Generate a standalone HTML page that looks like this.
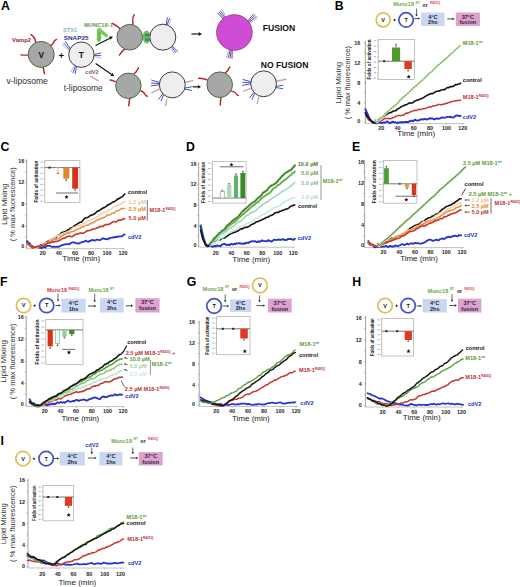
<!DOCTYPE html>
<html><head><meta charset="utf-8"><style>
html,body{margin:0;padding:0;background:#fff;}
svg{display:block;font-family:"Liberation Sans", sans-serif;}
</style></head><body>
<svg width="520" height="587" viewBox="0 0 520 587">
<rect width="520" height="587" fill="#fff"/>
<text x="334.68" y="10.15" font-size="12.3" font-weight="bold" fill="#000">B</text>
<text x="393.20" y="6.30" font-size="5.6" font-weight="bold" fill="#6aaa4a" textLength="20.8" lengthAdjust="spacingAndGlyphs">Munc18</text>
<text x="415.60" y="3.70" font-size="3.6" font-weight="bold" fill="#6aaa4a" textLength="4.2" lengthAdjust="spacingAndGlyphs">WT</text>
<text x="422.60" y="6.60" font-size="5.8" font-weight="bold" fill="#111" textLength="5.0" lengthAdjust="spacingAndGlyphs">or</text>
<text x="430.00" y="3.70" font-size="3.8" font-weight="bold" fill="#e04a4a" textLength="10.2" lengthAdjust="spacingAndGlyphs">R405Q</text>
<circle cx="383.20" cy="19.90" r="7.00" fill="#fff" stroke="#dcc058" stroke-width="1.7"/>
<text x="383.20" y="21.89" font-size="5.6" font-weight="bold" fill="#1a1a1a" text-anchor="middle">V</text>
<line x1="393.50" y1="20.00" x2="395.70" y2="20.00" stroke="#222" stroke-width="1.0" />
<line x1="394.60" y1="18.90" x2="394.60" y2="21.10" stroke="#222" stroke-width="1.0" />
<circle cx="406.10" cy="19.90" r="7.20" fill="#fff" stroke="#3f52cc" stroke-width="1.7"/>
<text x="406.10" y="21.89" font-size="5.6" font-weight="bold" fill="#1a1a1a" text-anchor="middle">T</text>
<line x1="416.60" y1="8.50" x2="416.60" y2="14.20" stroke="#222" stroke-width="0.7" />
<polygon points="416.60,16.40 415.40,14.20 417.80,14.20" fill="#222"/>
<line x1="414.30" y1="18.60" x2="418.10" y2="18.60" stroke="#222" stroke-width="0.8" />
<polygon points="420.10,18.60 418.10,19.80 418.10,17.40" fill="#222"/>
<rect x="421.20" y="12.50" width="23.40" height="13.50" fill="#c9d7f1" stroke="none" stroke-width="0.6" />
<text x="432.90" y="18.54" font-size="5.6" font-weight="bold" fill="#1a1a3a" text-anchor="middle">4°C</text>
<text x="432.90" y="24.21" font-size="5.6" font-weight="bold" fill="#1a1a3a" text-anchor="middle">2hs</text>
<line x1="447.20" y1="18.90" x2="452.40" y2="18.90" stroke="#222" stroke-width="0.8" />
<polygon points="454.60,18.90 452.40,20.20 452.40,17.60" fill="#222"/>
<rect x="455.80" y="12.50" width="24.20" height="13.50" fill="#dca3cf" stroke="none" stroke-width="0.6" />
<text x="467.90" y="18.54" font-size="5.6" font-weight="bold" fill="#3a1a3a" text-anchor="middle">37°C</text>
<text x="467.90" y="24.21" font-size="5.6" font-weight="bold" fill="#3a1a3a" text-anchor="middle">fusion</text>
<line x1="365.40" y1="41.26" x2="365.40" y2="123.60" stroke="#8c8c8c" stroke-width="0.8" />
<line x1="363.90" y1="122.60" x2="365.40" y2="122.60" stroke="#8c8c8c" stroke-width="0.6" />
<line x1="363.90" y1="112.62" x2="365.40" y2="112.62" stroke="#8c8c8c" stroke-width="0.6" />
<line x1="363.90" y1="102.64" x2="365.40" y2="102.64" stroke="#8c8c8c" stroke-width="0.6" />
<line x1="363.90" y1="92.66" x2="365.40" y2="92.66" stroke="#8c8c8c" stroke-width="0.6" />
<line x1="363.90" y1="82.68" x2="365.40" y2="82.68" stroke="#8c8c8c" stroke-width="0.6" />
<line x1="363.90" y1="72.70" x2="365.40" y2="72.70" stroke="#8c8c8c" stroke-width="0.6" />
<line x1="363.90" y1="62.72" x2="365.40" y2="62.72" stroke="#8c8c8c" stroke-width="0.6" />
<line x1="363.90" y1="52.74" x2="365.40" y2="52.74" stroke="#8c8c8c" stroke-width="0.6" />
<line x1="363.90" y1="42.76" x2="365.40" y2="42.76" stroke="#8c8c8c" stroke-width="0.6" />
<text x="360.20" y="123.32" font-size="5.4" font-weight="bold" fill="#1e1e1e" text-anchor="end">0</text>
<text x="360.20" y="104.56" font-size="5.4" font-weight="bold" fill="#1e1e1e" text-anchor="end">4</text>
<text x="360.20" y="84.60" font-size="5.4" font-weight="bold" fill="#1e1e1e" text-anchor="end">8</text>
<text x="360.20" y="64.64" font-size="5.4" font-weight="bold" fill="#1e1e1e" text-anchor="end">12</text>
<text x="360.20" y="44.68" font-size="5.4" font-weight="bold" fill="#1e1e1e" text-anchor="end">16</text>
<line x1="365.40" y1="123.60" x2="464.33" y2="123.60" stroke="#b4b4b4" stroke-width="0.8" />
<line x1="381.20" y1="123.60" x2="381.20" y2="124.80" stroke="#9a9a9a" stroke-width="0.6" />
<text x="381.20" y="129.62" font-size="5.4" font-weight="bold" fill="#1e1e1e" text-anchor="middle">20</text>
<line x1="397.50" y1="123.60" x2="397.50" y2="124.80" stroke="#9a9a9a" stroke-width="0.6" />
<text x="397.50" y="129.62" font-size="5.4" font-weight="bold" fill="#1e1e1e" text-anchor="middle">40</text>
<line x1="413.80" y1="123.60" x2="413.80" y2="124.80" stroke="#9a9a9a" stroke-width="0.6" />
<text x="413.80" y="129.62" font-size="5.4" font-weight="bold" fill="#1e1e1e" text-anchor="middle">60</text>
<line x1="430.10" y1="123.60" x2="430.10" y2="124.80" stroke="#9a9a9a" stroke-width="0.6" />
<text x="430.10" y="129.62" font-size="5.4" font-weight="bold" fill="#1e1e1e" text-anchor="middle">80</text>
<line x1="446.40" y1="123.60" x2="446.40" y2="124.80" stroke="#9a9a9a" stroke-width="0.6" />
<text x="446.40" y="129.62" font-size="5.4" font-weight="bold" fill="#1e1e1e" text-anchor="middle">100</text>
<line x1="462.70" y1="123.60" x2="462.70" y2="124.80" stroke="#9a9a9a" stroke-width="0.6" />
<text x="462.70" y="129.62" font-size="5.4" font-weight="bold" fill="#1e1e1e" text-anchor="middle">120</text>
<text x="416.20" y="136.10" font-size="7.5" fill="#222" text-anchor="middle" textLength="37.7" lengthAdjust="spacingAndGlyphs">Time  (min)</text>
<text x="338.90" y="85.24" font-size="7.2" fill="#333" text-anchor="middle" textLength="41.7" lengthAdjust="spacingAndGlyphs" transform="rotate(-90 338.90 82.68)">Lipid  Mixing</text>
<text x="347.40" y="85.24" font-size="7.2" fill="#333" text-anchor="middle" textLength="73.2" lengthAdjust="spacingAndGlyphs" transform="rotate(-90 347.40 82.68)">( % max fluorescence)</text>
<rect x="378.20" y="39.40" width="36.30" height="40.10" fill="#fff" stroke="#b4b4b4" stroke-width="0.8" />
<line x1="377.00" y1="40.90" x2="378.20" y2="40.90" stroke="#888" stroke-width="0.5" />
<rect x="373.80" y="40.40" width="2.2" height="1" fill="#b0b0b0"/>
<line x1="377.00" y1="46.20" x2="378.20" y2="46.20" stroke="#888" stroke-width="0.5" />
<rect x="373.80" y="45.70" width="2.2" height="1" fill="#b0b0b0"/>
<line x1="377.00" y1="51.50" x2="378.20" y2="51.50" stroke="#888" stroke-width="0.5" />
<rect x="373.80" y="51.00" width="2.2" height="1" fill="#b0b0b0"/>
<line x1="377.00" y1="56.80" x2="378.20" y2="56.80" stroke="#888" stroke-width="0.5" />
<rect x="373.80" y="56.30" width="2.2" height="1" fill="#b0b0b0"/>
<line x1="377.00" y1="62.10" x2="378.20" y2="62.10" stroke="#888" stroke-width="0.5" />
<rect x="373.80" y="61.60" width="2.2" height="1" fill="#b0b0b0"/>
<line x1="377.00" y1="67.40" x2="378.20" y2="67.40" stroke="#888" stroke-width="0.5" />
<rect x="373.80" y="66.90" width="2.2" height="1" fill="#b0b0b0"/>
<line x1="377.00" y1="72.70" x2="378.20" y2="72.70" stroke="#888" stroke-width="0.5" />
<rect x="373.80" y="72.20" width="2.2" height="1" fill="#b0b0b0"/>
<line x1="377.00" y1="78.00" x2="378.20" y2="78.00" stroke="#888" stroke-width="0.5" />
<rect x="373.80" y="77.50" width="2.2" height="1" fill="#b0b0b0"/>
<text x="369.20" y="61.23" font-size="5.0" font-weight="bold" fill="#111" text-anchor="middle" textLength="40.1" lengthAdjust="spacingAndGlyphs" transform="rotate(-90 369.20 59.45)">Folds of activation</text>
<line x1="378.20" y1="61.20" x2="414.50" y2="61.20" stroke="#555" stroke-width="0.8" />
<rect x="383.20" y="60.20" width="2" height="2" fill="#222"/>
<rect x="392.00" y="47.50" width="8.10" height="13.70" fill="#4f9a2c" stroke="none" stroke-width="0.6" />
<line x1="396.05" y1="47.50" x2="396.05" y2="44.10" stroke="#222" stroke-width="0.6" />
<line x1="395.15" y1="44.10" x2="396.95" y2="44.10" stroke="#222" stroke-width="0.6" />
<rect x="404.40" y="61.20" width="7.40" height="7.80" fill="#e03a22" stroke="none" stroke-width="0.6" />
<line x1="408.10" y1="69.00" x2="408.10" y2="71.00" stroke="#222" stroke-width="0.6" />
<line x1="407.20" y1="71.00" x2="409.00" y2="71.00" stroke="#222" stroke-width="0.6" />
<polygon points="408.70,74.60 409.28,76.00 410.79,76.12 409.64,77.11 409.99,78.58 408.70,77.79 407.41,78.58 407.76,77.11 406.61,76.12 408.12,76.00" fill="#111"/>
<polyline points="365.31,109.18 366.53,111.84 367.75,114.46 368.97,117.48 370.20,119.45 371.42,121.01 372.64,121.77 373.86,121.96 375.09,122.89 376.31,123.47 377.53,122.60 378.75,122.68 379.98,122.21 381.20,123.06 382.42,122.89 383.64,122.36 384.87,122.77 386.09,121.92 387.31,121.45 388.53,122.46 389.76,123.05 390.98,122.61 392.20,121.72 393.42,122.00 394.65,122.39 395.87,122.29 397.09,122.79 398.31,122.77 399.54,122.41 400.76,122.07 401.98,122.23 403.20,122.30 404.43,122.32 405.65,121.94 406.87,121.93 408.09,122.29 409.32,121.24 410.54,121.00 411.76,120.69 412.98,121.14 414.21,120.17 415.43,119.74 416.65,120.54 417.88,120.67 419.10,120.11 420.32,119.75 421.54,119.15 422.76,119.52 423.99,119.08 425.21,119.00 426.43,119.46 427.65,119.26 428.88,118.64 430.10,118.28 431.32,118.52 432.54,118.48 433.77,119.24 434.99,119.32 436.21,118.49 437.43,118.51 438.66,118.82 439.88,118.39 441.10,117.84 442.32,117.50 443.55,117.68 444.77,117.63 445.99,117.44 447.21,116.85 448.44,116.83 449.66,116.94 450.88,116.80 452.10,117.34 453.33,117.57 454.55,116.66 455.77,115.63 457.00,115.52 458.22,115.69 459.44,116.06 460.66,115.71" fill="none" stroke="#2433c8" stroke-width="1.9" stroke-linejoin="round" stroke-linecap="round" />
<polyline points="365.31,115.07 366.53,116.33 367.75,118.58 368.97,120.24 370.20,120.61 371.42,121.14 372.64,121.64 373.86,122.41 375.09,122.45 376.31,122.04 377.53,121.59 378.75,121.67 379.98,121.24 381.20,120.88 382.42,120.13 383.64,119.20 384.87,118.55 386.09,118.51 387.31,118.46 388.53,118.50 389.76,118.67 390.98,118.64 392.20,117.96 393.42,117.59 394.65,117.16 395.87,116.16 397.09,115.86 398.31,115.51 399.54,115.55 400.76,115.70 401.98,115.30 403.20,115.15 404.43,114.48 405.65,113.37 406.87,112.96 408.09,113.18 409.32,112.33 410.54,111.80 411.76,111.44 412.98,110.89 414.21,110.60 415.43,110.27 416.65,110.47 417.88,109.71 419.10,109.15 420.32,109.65 421.54,109.12 422.76,108.72 423.99,108.66 425.21,108.42 426.43,108.20 427.65,107.43 428.88,107.35 430.10,106.78 431.32,106.89 432.54,106.20 433.77,105.64 434.99,105.72 436.21,105.51 437.43,104.84 438.66,104.56 439.88,104.55 441.10,104.74 442.32,104.61 443.55,103.97 444.77,104.10 445.99,103.17 447.21,103.26 448.44,102.43 449.66,102.53 450.88,101.69 452.10,101.38 453.33,101.31 454.55,101.13 455.77,100.75 457.00,100.48 458.22,100.53 459.44,100.57 460.66,100.11" fill="none" stroke="#c8372a" stroke-width="1.5" stroke-linejoin="round" stroke-linecap="round" />
<polyline points="365.31,112.93 366.53,115.01 367.75,117.07 368.97,118.53 370.20,119.76 371.42,121.44 372.64,122.66 373.86,122.45 375.09,122.93 376.31,122.17 377.53,120.33 378.75,119.56 379.98,118.37 381.20,117.79 382.42,116.96 383.64,116.77 384.87,115.81 386.09,114.68 387.31,114.15 388.53,113.32 389.76,112.64 390.98,112.72 392.20,111.68 393.42,111.02 394.65,110.72 395.87,110.63 397.09,109.34 398.31,108.81 399.54,107.96 400.76,107.03 401.98,106.44 403.20,105.61 404.43,105.53 405.65,104.76 406.87,104.51 408.09,103.56 409.32,102.84 410.54,103.12 411.76,103.03 412.98,102.67 414.21,101.35 415.43,100.98 416.65,100.32 417.88,100.10 419.10,99.52 420.32,99.11 421.54,98.70 422.76,97.98 423.99,97.34 425.21,96.37 426.43,95.86 427.65,95.05 428.88,94.46 430.10,93.74 431.32,93.50 432.54,93.77 433.77,92.90 434.99,92.05 436.21,91.43 437.43,91.26 438.66,90.80 439.88,90.93 441.10,90.07 442.32,89.68 443.55,89.60 444.77,89.63 445.99,88.51 447.21,87.49 448.44,87.77 449.66,86.90 450.88,86.66 452.10,86.64 453.33,86.27 454.55,85.30 455.77,84.41 457.00,84.68 458.22,83.98 459.44,84.06 460.66,83.12" fill="none" stroke="#141414" stroke-width="1.6" stroke-linejoin="round" stroke-linecap="round" />
<polyline points="375.09,119.76 376.72,122.19 378.35,120.62 379.98,119.23 381.61,117.85 383.24,116.23 384.87,114.35 386.50,112.69 388.13,111.12 389.76,109.91 391.39,108.39 393.02,107.04 394.65,105.70 396.28,104.34 397.91,102.86 399.54,100.94 401.17,99.26 402.80,97.66 404.43,96.11 406.06,94.95 407.69,93.58 409.32,91.98 410.95,90.35 412.58,88.71 414.21,87.11 415.84,86.03 417.47,84.47 419.10,82.90 420.73,81.46 422.36,80.19 423.99,78.66 425.62,77.37 427.25,75.50 428.88,73.82 430.51,72.40 432.14,71.10 433.77,69.36 435.40,67.92 437.03,66.28 438.66,64.71 440.29,63.38 441.92,62.04 443.55,60.53 445.18,59.12 446.81,57.85 448.44,56.40 450.07,54.63 451.70,53.43 453.33,52.11 454.96,50.37 456.59,48.94 458.22,47.33 459.85,45.81" fill="none" stroke="#dcefd0" stroke-width="2.4000000000000004" stroke-linejoin="round" stroke-linecap="round" />
<polyline points="375.09,119.76 376.72,122.19 378.35,120.62 379.98,119.23 381.61,117.85 383.24,116.23 384.87,114.35 386.50,112.69 388.13,111.12 389.76,109.91 391.39,108.39 393.02,107.04 394.65,105.70 396.28,104.34 397.91,102.86 399.54,100.94 401.17,99.26 402.80,97.66 404.43,96.11 406.06,94.95 407.69,93.58 409.32,91.98 410.95,90.35 412.58,88.71 414.21,87.11 415.84,86.03 417.47,84.47 419.10,82.90 420.73,81.46 422.36,80.19 423.99,78.66 425.62,77.37 427.25,75.50 428.88,73.82 430.51,72.40 432.14,71.10 433.77,69.36 435.40,67.92 437.03,66.28 438.66,64.71 440.29,63.38 441.92,62.04 443.55,60.53 445.18,59.12 446.81,57.85 448.44,56.40 450.07,54.63 451.70,53.43 453.33,52.11 454.96,50.37 456.59,48.94 458.22,47.33 459.85,45.81" fill="none" stroke="#6aa84a" stroke-width="1.1" stroke-linejoin="round" stroke-linecap="round" stroke-dasharray="1.3 1.5"/>
<text x="462.80" y="44.79" font-size="5.6" font-weight="bold" fill="#5a9a3a">M18-1<tspan font-size="3.6" dy="-2">wt</tspan></text>
<text x="462.80" y="82.29" font-size="5.6" font-weight="bold" fill="#111">control</text>
<text x="462.80" y="98.59" font-size="5.6" font-weight="bold" fill="#bb3038">M18-1<tspan font-size="3.2" dy="-2">R405Q</tspan></text>
<text x="462.80" y="118.69" font-size="5.6" font-weight="bold" fill="#2433c8">cdV2</text>
<text x="0.40" y="150.65" font-size="12.3" font-weight="bold" fill="#000">C</text>
<line x1="26.60" y1="159.38" x2="26.60" y2="248.60" stroke="#8c8c8c" stroke-width="0.8" />
<line x1="25.10" y1="247.60" x2="26.60" y2="247.60" stroke="#8c8c8c" stroke-width="0.6" />
<line x1="25.10" y1="236.76" x2="26.60" y2="236.76" stroke="#8c8c8c" stroke-width="0.6" />
<line x1="25.10" y1="225.92" x2="26.60" y2="225.92" stroke="#8c8c8c" stroke-width="0.6" />
<line x1="25.10" y1="215.08" x2="26.60" y2="215.08" stroke="#8c8c8c" stroke-width="0.6" />
<line x1="25.10" y1="204.24" x2="26.60" y2="204.24" stroke="#8c8c8c" stroke-width="0.6" />
<line x1="25.10" y1="193.40" x2="26.60" y2="193.40" stroke="#8c8c8c" stroke-width="0.6" />
<line x1="25.10" y1="182.56" x2="26.60" y2="182.56" stroke="#8c8c8c" stroke-width="0.6" />
<line x1="25.10" y1="171.72" x2="26.60" y2="171.72" stroke="#8c8c8c" stroke-width="0.6" />
<line x1="25.10" y1="160.88" x2="26.60" y2="160.88" stroke="#8c8c8c" stroke-width="0.6" />
<text x="24.30" y="248.32" font-size="5.4" font-weight="bold" fill="#1e1e1e" text-anchor="end">0</text>
<text x="24.30" y="227.84" font-size="5.4" font-weight="bold" fill="#1e1e1e" text-anchor="end">4</text>
<text x="24.30" y="206.16" font-size="5.4" font-weight="bold" fill="#1e1e1e" text-anchor="end">8</text>
<text x="24.30" y="184.48" font-size="5.4" font-weight="bold" fill="#1e1e1e" text-anchor="end">12</text>
<text x="24.30" y="162.80" font-size="5.4" font-weight="bold" fill="#1e1e1e" text-anchor="end">16</text>
<line x1="26.60" y1="248.60" x2="124.66" y2="248.60" stroke="#b4b4b4" stroke-width="0.8" />
<line x1="42.80" y1="248.60" x2="42.80" y2="249.80" stroke="#9a9a9a" stroke-width="0.6" />
<text x="42.80" y="254.82" font-size="5.4" font-weight="bold" fill="#1e1e1e" text-anchor="middle">20</text>
<line x1="58.85" y1="248.60" x2="58.85" y2="249.80" stroke="#9a9a9a" stroke-width="0.6" />
<text x="58.85" y="254.82" font-size="5.4" font-weight="bold" fill="#1e1e1e" text-anchor="middle">40</text>
<line x1="74.90" y1="248.60" x2="74.90" y2="249.80" stroke="#9a9a9a" stroke-width="0.6" />
<text x="74.90" y="254.82" font-size="5.4" font-weight="bold" fill="#1e1e1e" text-anchor="middle">60</text>
<line x1="90.95" y1="248.60" x2="90.95" y2="249.80" stroke="#9a9a9a" stroke-width="0.6" />
<text x="90.95" y="254.82" font-size="5.4" font-weight="bold" fill="#1e1e1e" text-anchor="middle">80</text>
<line x1="107.00" y1="248.60" x2="107.00" y2="249.80" stroke="#9a9a9a" stroke-width="0.6" />
<text x="107.00" y="254.82" font-size="5.4" font-weight="bold" fill="#1e1e1e" text-anchor="middle">100</text>
<line x1="123.05" y1="248.60" x2="123.05" y2="249.80" stroke="#9a9a9a" stroke-width="0.6" />
<text x="123.05" y="254.82" font-size="5.4" font-weight="bold" fill="#1e1e1e" text-anchor="middle">120</text>
<text x="81.20" y="260.80" font-size="7.5" fill="#222" text-anchor="middle" textLength="37.7" lengthAdjust="spacingAndGlyphs">Time  (min)</text>
<text x="4.00" y="206.80" font-size="7.2" fill="#333" text-anchor="middle" textLength="41.7" lengthAdjust="spacingAndGlyphs" transform="rotate(-90 4.00 204.24)">Lipid  Mixing</text>
<text x="12.40" y="206.80" font-size="7.2" fill="#333" text-anchor="middle" textLength="74" lengthAdjust="spacingAndGlyphs" transform="rotate(-90 12.40 204.24)">( % max fluorescence)</text>
<rect x="44.80" y="160.60" width="35.10" height="42.00" fill="#fff" stroke="#b4b4b4" stroke-width="0.8" />
<line x1="43.60" y1="162.10" x2="44.80" y2="162.10" stroke="#888" stroke-width="0.5" />
<rect x="40.40" y="161.60" width="2.2" height="1" fill="#b0b0b0"/>
<line x1="43.60" y1="167.67" x2="44.80" y2="167.67" stroke="#888" stroke-width="0.5" />
<rect x="40.40" y="167.17" width="2.2" height="1" fill="#b0b0b0"/>
<line x1="43.60" y1="173.24" x2="44.80" y2="173.24" stroke="#888" stroke-width="0.5" />
<rect x="40.40" y="172.74" width="2.2" height="1" fill="#b0b0b0"/>
<line x1="43.60" y1="178.81" x2="44.80" y2="178.81" stroke="#888" stroke-width="0.5" />
<rect x="40.40" y="178.31" width="2.2" height="1" fill="#b0b0b0"/>
<line x1="43.60" y1="184.39" x2="44.80" y2="184.39" stroke="#888" stroke-width="0.5" />
<rect x="40.40" y="183.89" width="2.2" height="1" fill="#b0b0b0"/>
<line x1="43.60" y1="189.96" x2="44.80" y2="189.96" stroke="#888" stroke-width="0.5" />
<rect x="40.40" y="189.46" width="2.2" height="1" fill="#b0b0b0"/>
<line x1="43.60" y1="195.53" x2="44.80" y2="195.53" stroke="#888" stroke-width="0.5" />
<rect x="40.40" y="195.03" width="2.2" height="1" fill="#b0b0b0"/>
<line x1="43.60" y1="201.10" x2="44.80" y2="201.10" stroke="#888" stroke-width="0.5" />
<rect x="40.40" y="200.60" width="2.2" height="1" fill="#b0b0b0"/>
<text x="35.80" y="183.38" font-size="5.0" font-weight="bold" fill="#111" text-anchor="middle" textLength="42.0" lengthAdjust="spacingAndGlyphs" transform="rotate(-90 35.80 181.60)">Folds of activation</text>
<line x1="44.80" y1="167.60" x2="79.90" y2="167.60" stroke="#555" stroke-width="0.8" />
<rect x="48.50" y="166.60" width="2" height="2" fill="#222"/>
<rect x="56.50" y="167.60" width="2.70" height="4.90" fill="#f6dcc0" stroke="none" stroke-width="0.6" />
<line x1="57.85" y1="172.50" x2="57.85" y2="173.50" stroke="#222" stroke-width="0.6" />
<line x1="56.95" y1="173.50" x2="58.75" y2="173.50" stroke="#222" stroke-width="0.6" />
<rect x="63.30" y="167.60" width="6.00" height="11.10" fill="#e0892a" stroke="none" stroke-width="0.6" />
<line x1="66.30" y1="178.70" x2="66.30" y2="180.30" stroke="#222" stroke-width="0.6" />
<line x1="65.40" y1="180.30" x2="67.20" y2="180.30" stroke="#222" stroke-width="0.6" />
<rect x="72.20" y="167.60" width="5.90" height="21.10" fill="#d8321c" stroke="none" stroke-width="0.6" />
<line x1="75.15" y1="188.70" x2="75.15" y2="190.30" stroke="#222" stroke-width="0.6" />
<line x1="74.25" y1="190.30" x2="76.05" y2="190.30" stroke="#222" stroke-width="0.6" />
<line x1="56.00" y1="193.00" x2="78.00" y2="193.00" stroke="#333" stroke-width="0.7" />
<polygon points="66.60,194.80 67.18,196.20 68.69,196.32 67.54,197.31 67.89,198.78 66.60,197.99 65.31,198.78 65.66,197.31 64.51,196.32 66.02,196.20" fill="#111"/>
<polyline points="27.15,241.17 28.36,242.63 29.56,243.37 30.76,244.84 31.97,245.89 33.17,246.55 34.37,247.61 35.58,247.72 36.78,247.50 37.98,247.03 39.19,247.77 40.39,247.86 41.60,248.20 42.80,247.26 44.00,246.83 45.21,247.52 46.41,246.45 47.61,245.79 48.82,245.81 50.02,245.83 51.23,246.48 52.43,247.04 53.63,246.53 54.84,246.89 56.04,246.84 57.25,246.68 58.45,246.84 59.65,246.22 60.86,245.82 62.06,244.91 63.26,244.79 64.47,244.47 65.67,244.42 66.88,244.09 68.08,244.13 69.28,244.36 70.49,243.33 71.69,242.66 72.89,242.42 74.10,242.40 75.30,242.92 76.50,243.29 77.71,243.35 78.91,243.64 80.12,242.69 81.32,242.60 82.52,241.80 83.73,241.94 84.93,241.08 86.13,240.66 87.34,241.61 88.54,241.79 89.75,240.76 90.95,240.73 92.15,239.86 93.36,240.14 94.56,240.72 95.77,240.15 96.97,239.50 98.17,239.80 99.38,240.17 100.58,239.95 101.78,238.77 102.99,238.29 104.19,238.89 105.39,238.98 106.60,239.16 107.80,239.25 109.01,238.10 110.21,238.27 111.41,237.70 112.62,237.45 113.82,237.60 115.03,236.78 116.23,237.12 117.43,236.45 118.64,236.76 119.84,236.40 121.04,236.41 122.25,236.24 123.45,234.99 124.66,234.40" fill="none" stroke="#2433c8" stroke-width="1.8" stroke-linejoin="round" stroke-linecap="round" />
<polyline points="27.15,243.30 28.36,244.14 29.56,244.90 30.76,246.26 31.97,247.41 33.17,247.72 34.37,248.07 35.58,247.57 36.78,247.17 37.98,246.53 39.19,245.93 40.39,245.17 41.60,245.12 42.80,244.43 44.00,244.11 45.21,242.68 46.41,242.64 47.61,241.36 48.82,241.27 50.02,240.15 51.23,239.65 52.43,238.98 53.63,237.73 54.84,237.77 56.04,237.45 57.25,235.87 58.45,235.16 59.65,234.99 60.86,233.44 62.06,232.27 63.26,232.37 64.47,231.74 65.67,231.44 66.88,230.75 68.08,229.64 69.28,229.27 70.49,228.07 71.69,227.90 72.89,227.35 74.10,225.89 75.30,225.26 76.50,224.56 77.71,223.62 78.91,222.92 80.12,222.32 81.32,222.13 82.52,220.81 83.73,219.41 84.93,218.27 86.13,217.69 87.34,217.44 88.54,216.99 89.75,216.00 90.95,215.12 92.15,215.03 93.36,214.52 94.56,213.75 95.77,212.79 96.97,211.53 98.17,210.88 99.38,210.80 100.58,209.42 101.78,208.80 102.99,208.01 104.19,207.63 105.39,206.82 106.60,206.09 107.80,204.85 109.01,204.68 110.21,203.69 111.41,203.28 112.62,202.05 113.82,201.87 115.03,201.15 116.23,200.33 117.43,199.15 118.64,198.90 119.84,197.91 121.04,197.34 122.25,196.60 123.45,195.60 124.66,194.07" fill="none" stroke="#141414" stroke-width="1.6" stroke-linejoin="round" stroke-linecap="round" />
<polyline points="27.15,243.58 28.36,244.27 29.56,244.96 30.76,245.38 31.97,246.65 33.17,247.45 34.37,248.08 35.58,248.33 36.78,247.55 37.98,247.35 39.19,246.45 40.39,246.08 41.60,245.51 42.80,244.73 44.00,243.49 45.21,242.80 46.41,242.90 47.61,242.38 48.82,241.98 50.02,240.56 51.23,239.53 52.43,238.67 53.63,237.88 54.84,237.26 56.04,236.38 57.25,235.80 58.45,235.90 59.65,234.94 60.86,234.59 62.06,233.79 63.26,233.30 64.47,232.93 65.67,232.55 66.88,231.99 68.08,231.55 69.28,231.30 70.49,229.98 71.69,228.97 72.89,227.87 74.10,227.35 75.30,226.96 76.50,226.23 77.71,226.34 78.91,225.45 80.12,224.98 81.32,224.79 82.52,224.39 83.73,223.49 84.93,223.05 86.13,222.27 87.34,221.36 88.54,220.84 89.75,220.62 90.95,219.78 92.15,219.35 93.36,218.85 94.56,218.35 95.77,217.58 96.97,217.25 98.17,216.05 99.38,214.69 100.58,214.36 101.78,213.48 102.99,212.43 104.19,212.71 105.39,212.50 106.60,211.26 107.80,210.22 109.01,209.61 110.21,209.62 111.41,209.05 112.62,207.86 113.82,206.88 115.03,206.15 116.23,206.25 117.43,205.21 118.64,204.96 119.84,204.11 121.04,204.11 122.25,202.78 123.45,202.21 124.66,201.46" fill="none" stroke="#f3d3b3" stroke-width="1.6" stroke-linejoin="round" stroke-linecap="round" />
<polyline points="27.15,243.78 28.36,244.36 29.56,245.06 30.76,245.32 31.97,246.50 33.17,247.33 34.37,247.24 35.58,247.27 36.78,247.50 37.98,246.68 39.19,246.35 40.39,245.44 41.60,245.53 42.80,245.23 44.00,243.95 45.21,243.67 46.41,243.42 47.61,242.34 48.82,241.69 50.02,241.72 51.23,240.99 52.43,240.19 53.63,240.15 54.84,239.27 56.04,239.21 57.25,238.68 58.45,238.47 59.65,237.97 60.86,236.45 62.06,236.07 63.26,234.85 64.47,234.63 65.67,234.05 66.88,233.15 68.08,232.63 69.28,232.85 70.49,232.14 71.69,231.44 72.89,231.39 74.10,231.26 75.30,229.94 76.50,229.41 77.71,229.28 78.91,228.66 80.12,228.37 81.32,227.22 82.52,226.70 83.73,226.69 84.93,225.54 86.13,225.57 87.34,225.13 88.54,224.97 89.75,223.74 90.95,223.59 92.15,222.75 93.36,222.59 94.56,221.78 95.77,220.80 96.97,220.19 98.17,219.72 99.38,219.17 100.58,218.69 101.78,217.98 102.99,217.99 104.19,217.28 105.39,216.95 106.60,215.71 107.80,214.66 109.01,214.94 110.21,214.79 111.41,213.76 112.62,213.09 113.82,213.19 115.03,212.14 116.23,210.99 117.43,210.75 118.64,210.49 119.84,209.83 121.04,208.73 122.25,208.74 123.45,208.47 124.66,208.24" fill="none" stroke="#e3954a" stroke-width="1.6" stroke-linejoin="round" stroke-linecap="round" />
<polyline points="27.15,242.66 28.36,244.59 29.56,245.09 30.76,246.35 31.97,246.19 33.17,247.45 34.37,247.13 35.58,247.17 36.78,246.77 37.98,246.00 39.19,246.38 40.39,246.32 41.60,245.64 42.80,245.64 44.00,245.50 45.21,245.31 46.41,244.21 47.61,243.38 48.82,242.82 50.02,243.08 51.23,242.16 52.43,241.99 53.63,242.10 54.84,241.71 56.04,241.37 57.25,241.45 58.45,240.71 59.65,240.38 60.86,239.75 62.06,238.74 63.26,238.35 64.47,238.27 65.67,237.47 66.88,236.66 68.08,236.68 69.28,235.94 70.49,236.54 71.69,236.59 72.89,236.42 74.10,235.16 75.30,234.58 76.50,234.03 77.71,234.11 78.91,233.72 80.12,232.83 81.32,233.16 82.52,233.18 83.73,233.12 84.93,232.38 86.13,231.30 87.34,230.86 88.54,230.64 89.75,230.22 90.95,230.23 92.15,229.08 93.36,229.01 94.56,228.96 95.77,228.68 96.97,227.68 98.17,227.59 99.38,226.61 100.58,226.60 101.78,226.31 102.99,226.45 104.19,225.30 105.39,224.59 106.60,224.43 107.80,224.64 109.01,224.12 110.21,223.80 111.41,222.85 112.62,222.01 113.82,221.59 115.03,221.77 116.23,222.04 117.43,220.94 118.64,220.06 119.84,220.39 121.04,219.99 122.25,219.62 123.45,218.59 124.66,219.03" fill="none" stroke="#c8372a" stroke-width="1.6" stroke-linejoin="round" stroke-linecap="round" />
<text x="128.00" y="194.49" font-size="5.6" font-weight="bold" fill="#111">control</text>
<text x="128.60" y="203.99" font-size="5.6" font-weight="bold" fill="#f0c49a">1.2 µM</text>
<text x="128.60" y="210.99" font-size="5.6" font-weight="bold" fill="#e0882e">2.5 µM</text>
<text x="128.60" y="219.59" font-size="5.6" font-weight="bold" fill="#c8372a">5.0 µM</text>
<line x1="147.30" y1="200.00" x2="147.30" y2="220.80" stroke="#6a6a6a" stroke-width="0.9" />
<text x="149.60" y="211.99" font-size="5.6" font-weight="bold" fill="#bb3038">M18-1<tspan font-size="3.2" dy="-2">R405Q</tspan></text>
<text x="128.00" y="238.99" font-size="5.6" font-weight="bold" fill="#2433c8">cdV2</text>
<text x="186.08" y="150.95" font-size="12.3" font-weight="bold" fill="#000">D</text>
<line x1="198.70" y1="162.46" x2="198.70" y2="247.20" stroke="#8c8c8c" stroke-width="0.8" />
<line x1="197.20" y1="246.20" x2="198.70" y2="246.20" stroke="#8c8c8c" stroke-width="0.6" />
<line x1="197.20" y1="235.92" x2="198.70" y2="235.92" stroke="#8c8c8c" stroke-width="0.6" />
<line x1="197.20" y1="225.64" x2="198.70" y2="225.64" stroke="#8c8c8c" stroke-width="0.6" />
<line x1="197.20" y1="215.36" x2="198.70" y2="215.36" stroke="#8c8c8c" stroke-width="0.6" />
<line x1="197.20" y1="205.08" x2="198.70" y2="205.08" stroke="#8c8c8c" stroke-width="0.6" />
<line x1="197.20" y1="194.80" x2="198.70" y2="194.80" stroke="#8c8c8c" stroke-width="0.6" />
<line x1="197.20" y1="184.52" x2="198.70" y2="184.52" stroke="#8c8c8c" stroke-width="0.6" />
<line x1="197.20" y1="174.24" x2="198.70" y2="174.24" stroke="#8c8c8c" stroke-width="0.6" />
<line x1="197.20" y1="163.96" x2="198.70" y2="163.96" stroke="#8c8c8c" stroke-width="0.6" />
<text x="196.40" y="246.92" font-size="5.4" font-weight="bold" fill="#1e1e1e" text-anchor="end">0</text>
<text x="196.40" y="227.56" font-size="5.4" font-weight="bold" fill="#1e1e1e" text-anchor="end">4</text>
<text x="196.40" y="207.00" font-size="5.4" font-weight="bold" fill="#1e1e1e" text-anchor="end">8</text>
<text x="196.40" y="186.44" font-size="5.4" font-weight="bold" fill="#1e1e1e" text-anchor="end">12</text>
<text x="196.40" y="165.88" font-size="5.4" font-weight="bold" fill="#1e1e1e" text-anchor="end">16</text>
<line x1="198.70" y1="247.20" x2="294.85" y2="247.20" stroke="#b4b4b4" stroke-width="0.8" />
<line x1="215.80" y1="247.20" x2="215.80" y2="248.40" stroke="#9a9a9a" stroke-width="0.6" />
<text x="215.80" y="255.02" font-size="5.4" font-weight="bold" fill="#1e1e1e" text-anchor="middle">20</text>
<line x1="231.30" y1="247.20" x2="231.30" y2="248.40" stroke="#9a9a9a" stroke-width="0.6" />
<text x="231.30" y="255.02" font-size="5.4" font-weight="bold" fill="#1e1e1e" text-anchor="middle">40</text>
<line x1="246.80" y1="247.20" x2="246.80" y2="248.40" stroke="#9a9a9a" stroke-width="0.6" />
<text x="246.80" y="255.02" font-size="5.4" font-weight="bold" fill="#1e1e1e" text-anchor="middle">60</text>
<line x1="262.30" y1="247.20" x2="262.30" y2="248.40" stroke="#9a9a9a" stroke-width="0.6" />
<text x="262.30" y="255.02" font-size="5.4" font-weight="bold" fill="#1e1e1e" text-anchor="middle">80</text>
<line x1="277.80" y1="247.20" x2="277.80" y2="248.40" stroke="#9a9a9a" stroke-width="0.6" />
<text x="277.80" y="255.02" font-size="5.4" font-weight="bold" fill="#1e1e1e" text-anchor="middle">100</text>
<line x1="293.30" y1="247.20" x2="293.30" y2="248.40" stroke="#9a9a9a" stroke-width="0.6" />
<text x="293.30" y="255.02" font-size="5.4" font-weight="bold" fill="#1e1e1e" text-anchor="middle">120</text>
<text x="251.20" y="261.70" font-size="7.5" fill="#222" text-anchor="middle" textLength="37.7" lengthAdjust="spacingAndGlyphs">Time  (min)</text>
<rect x="212.40" y="161.60" width="33.70" height="41.50" fill="#fff" stroke="#b4b4b4" stroke-width="0.8" />
<line x1="211.20" y1="163.10" x2="212.40" y2="163.10" stroke="#888" stroke-width="0.5" />
<rect x="208.00" y="162.60" width="2.2" height="1" fill="#b0b0b0"/>
<line x1="211.20" y1="168.60" x2="212.40" y2="168.60" stroke="#888" stroke-width="0.5" />
<rect x="208.00" y="168.10" width="2.2" height="1" fill="#b0b0b0"/>
<line x1="211.20" y1="174.10" x2="212.40" y2="174.10" stroke="#888" stroke-width="0.5" />
<rect x="208.00" y="173.60" width="2.2" height="1" fill="#b0b0b0"/>
<line x1="211.20" y1="179.60" x2="212.40" y2="179.60" stroke="#888" stroke-width="0.5" />
<rect x="208.00" y="179.10" width="2.2" height="1" fill="#b0b0b0"/>
<line x1="211.20" y1="185.10" x2="212.40" y2="185.10" stroke="#888" stroke-width="0.5" />
<rect x="208.00" y="184.60" width="2.2" height="1" fill="#b0b0b0"/>
<line x1="211.20" y1="190.60" x2="212.40" y2="190.60" stroke="#888" stroke-width="0.5" />
<rect x="208.00" y="190.10" width="2.2" height="1" fill="#b0b0b0"/>
<line x1="211.20" y1="196.10" x2="212.40" y2="196.10" stroke="#888" stroke-width="0.5" />
<rect x="208.00" y="195.60" width="2.2" height="1" fill="#b0b0b0"/>
<line x1="211.20" y1="201.60" x2="212.40" y2="201.60" stroke="#888" stroke-width="0.5" />
<rect x="208.00" y="201.10" width="2.2" height="1" fill="#b0b0b0"/>
<text x="203.40" y="184.12" font-size="5.0" font-weight="bold" fill="#111" text-anchor="middle" textLength="41.5" lengthAdjust="spacingAndGlyphs" transform="rotate(-90 203.40 182.35)">Folds of activation</text>
<line x1="212.40" y1="198.00" x2="246.10" y2="198.00" stroke="#555" stroke-width="0.8" />
<rect x="220.20" y="191.40" width="4.30" height="6.60" fill="#f4fbf4" stroke="#7ab07a" stroke-width="0.6" />
<line x1="222.35" y1="191.40" x2="222.35" y2="190.20" stroke="#222" stroke-width="0.6" />
<line x1="221.45" y1="190.20" x2="223.25" y2="190.20" stroke="#222" stroke-width="0.6" />
<rect x="227.00" y="185.00" width="4.40" height="13.00" fill="#a8dcb8" stroke="none" stroke-width="0.6" />
<line x1="229.20" y1="185.00" x2="229.20" y2="183.60" stroke="#222" stroke-width="0.6" />
<line x1="228.30" y1="183.60" x2="230.10" y2="183.60" stroke="#222" stroke-width="0.6" />
<rect x="234.00" y="175.50" width="4.00" height="22.50" fill="#5cb46a" stroke="none" stroke-width="0.6" />
<line x1="236.00" y1="175.50" x2="236.00" y2="173.90" stroke="#222" stroke-width="0.6" />
<line x1="235.10" y1="173.90" x2="236.90" y2="173.90" stroke="#222" stroke-width="0.6" />
<rect x="240.40" y="172.90" width="4.90" height="25.10" fill="#3a8a2a" stroke="none" stroke-width="0.6" />
<line x1="242.85" y1="172.90" x2="242.85" y2="171.30" stroke="#222" stroke-width="0.6" />
<line x1="241.95" y1="171.30" x2="243.75" y2="171.30" stroke="#222" stroke-width="0.6" />
<line x1="220.00" y1="166.80" x2="243.50" y2="166.80" stroke="#333" stroke-width="0.7" />
<polygon points="231.40,162.50 231.98,163.90 233.49,164.02 232.34,165.01 232.69,166.48 231.40,165.69 230.11,166.48 230.46,165.01 229.31,164.02 230.82,163.90" fill="#111"/>
<polyline points="200.69,226.16 201.85,231.64 203.01,236.38 204.18,240.42 205.34,243.80 206.50,245.07 207.66,245.54 208.83,245.75 209.99,245.79 211.15,246.19 212.31,246.75 213.48,246.47 214.64,245.94 215.80,246.37 216.96,245.47 218.12,245.76 219.29,245.89 220.45,246.22 221.61,244.90 222.78,244.47 223.94,243.96 225.10,244.01 226.26,244.90 227.43,244.94 228.59,244.66 229.75,245.04 230.91,243.94 232.08,244.14 233.24,244.54 234.40,243.72 235.56,244.26 236.73,243.30 237.89,243.42 239.05,243.29 240.21,243.50 241.38,243.37 242.54,243.70 243.70,244.09 244.86,243.01 246.03,243.29 247.19,242.58 248.35,242.99 249.51,242.03 250.68,241.52 251.84,241.39 253.00,241.26 254.16,241.42 255.33,241.25 256.49,242.04 257.65,241.93 258.81,241.28 259.98,241.81 261.14,240.98 262.30,240.49 263.46,240.89 264.62,241.16 265.79,241.15 266.95,241.21 268.11,240.26 269.28,240.58 270.44,241.29 271.60,241.58 272.76,240.74 273.93,239.78 275.09,239.92 276.25,239.98 277.41,239.88 278.58,239.47 279.74,240.00 280.90,239.67 282.06,239.52 283.23,239.29 284.39,239.79 285.55,240.06 286.71,239.91 287.88,238.89 289.04,239.13 290.20,238.84 291.36,239.08 292.53,239.49 293.69,239.76 294.85,238.72" fill="none" stroke="#2433c8" stroke-width="1.9" stroke-linejoin="round" stroke-linecap="round" />
<polyline points="200.69,225.07 201.85,231.72 203.01,237.23 204.18,240.28 205.34,243.66 206.50,245.91 207.66,246.33 208.83,246.03 209.99,244.78 211.15,244.60 212.31,243.35 213.48,243.15 214.64,242.44 215.80,241.38 216.96,240.80 218.12,239.93 219.29,239.44 220.45,239.73 221.61,238.64 222.78,238.12 223.94,237.92 225.10,237.72 226.26,236.56 227.43,235.97 228.59,234.94 229.75,234.31 230.91,233.47 232.08,233.22 233.24,232.69 234.40,232.25 235.56,232.20 236.73,231.09 237.89,230.99 239.05,230.13 240.21,229.18 241.38,228.76 242.54,228.92 243.70,227.95 244.86,227.34 246.03,227.35 247.19,227.30 248.35,226.46 249.51,226.35 250.68,224.96 251.84,224.43 253.00,223.88 254.16,223.46 255.33,222.68 256.49,221.68 257.65,221.62 258.81,221.28 259.98,220.60 261.14,220.33 262.30,219.58 263.46,218.98 264.62,218.54 265.79,217.76 266.95,217.26 268.11,217.28 269.28,215.96 270.44,215.75 271.60,215.31 272.76,214.87 273.93,213.74 275.09,212.82 276.25,212.59 277.41,212.38 278.58,212.42 279.74,211.24 280.90,211.21 282.06,210.52 283.23,210.13 284.39,209.72 285.55,209.22 286.71,208.91 287.88,208.70 289.04,207.75 290.20,206.64 291.36,205.95 292.53,205.88 293.69,205.01 294.85,205.07" fill="none" stroke="#141414" stroke-width="1.6" stroke-linejoin="round" stroke-linecap="round" />
<polyline points="200.69,225.12 201.85,230.75 203.01,235.57 204.18,240.42 205.34,243.24 206.50,245.28 207.66,246.10 208.83,246.08 209.99,245.52 211.15,244.58 212.31,244.02 213.48,243.11 214.64,242.81 215.80,242.28 216.96,240.91 218.12,240.17 219.29,239.34 220.45,238.30 221.61,237.86 222.78,237.70 223.94,236.44 225.10,235.65 226.26,234.82 227.43,234.11 228.59,232.98 229.75,232.78 230.91,231.91 232.08,231.61 233.24,230.91 234.40,230.11 235.56,229.80 236.73,229.63 237.89,228.79 239.05,227.72 240.21,226.98 241.38,226.45 242.54,225.63 243.70,225.44 244.86,225.08 246.03,224.42 247.19,223.16 248.35,222.91 249.51,222.60 250.68,222.17 251.84,221.74 253.00,220.92 254.16,219.81 255.33,218.58 256.49,218.19 257.65,217.66 258.81,217.18 259.98,216.62 261.14,215.44 262.30,214.76 263.46,214.46 264.62,214.21 265.79,212.97 266.95,212.07 268.11,211.12 269.28,211.03 270.44,210.34 271.60,209.21 272.76,208.69 273.93,207.69 275.09,207.79 276.25,206.61 277.41,206.78 278.58,206.18 279.74,206.06 280.90,204.76 282.06,203.89 283.23,202.76 284.39,202.04 285.55,201.17 286.71,200.91 287.88,199.95 289.04,199.42 290.20,199.35 291.36,198.28 292.53,198.13 293.69,198.01 294.85,197.84" fill="none" stroke="#c4ece2" stroke-width="1.6" stroke-linejoin="round" stroke-linecap="round" />
<polyline points="200.69,225.38 201.85,231.04 203.01,236.62 204.18,239.92 205.34,243.43 206.50,245.09 207.66,246.53 208.83,245.33 209.99,244.74 211.15,243.32 212.31,242.07 213.48,240.90 214.64,240.22 215.80,238.92 216.96,237.63 218.12,237.57 219.29,236.67 220.45,235.23 221.61,234.29 222.78,233.72 223.94,233.21 225.10,231.75 226.26,231.59 227.43,230.32 228.59,229.10 229.75,228.87 230.91,228.18 232.08,227.45 233.24,226.38 234.40,225.61 235.56,224.16 236.73,222.91 237.89,222.57 239.05,221.32 240.21,221.25 241.38,220.84 242.54,219.55 243.70,218.28 244.86,217.16 246.03,215.94 247.19,215.04 248.35,214.90 249.51,213.90 250.68,212.74 251.84,212.74 253.00,211.92 254.16,211.52 255.33,210.96 256.49,209.89 257.65,208.68 258.81,207.25 259.98,207.11 261.14,206.24 262.30,204.78 263.46,203.87 264.62,203.29 265.79,202.97 266.95,201.98 268.11,201.52 269.28,200.44 270.44,199.47 271.60,198.89 272.76,197.72 273.93,197.17 275.09,196.45 276.25,195.25 277.41,194.92 278.58,194.49 279.74,193.43 280.90,192.65 282.06,191.32 283.23,190.97 284.39,190.30 285.55,189.96 286.71,188.96 287.88,188.21 289.04,187.28 290.20,186.02 291.36,185.84 292.53,184.24 293.69,183.31 294.85,182.31" fill="none" stroke="#a2d6c2" stroke-width="1.6" stroke-linejoin="round" stroke-linecap="round" />
<polyline points="200.69,225.79 201.85,231.18 203.01,235.89 204.18,240.45 205.34,242.92 206.50,244.82 207.66,246.43 208.83,244.84 209.99,244.02 211.15,243.01 212.31,241.81 213.48,240.44 214.64,239.75 215.80,238.21 216.96,236.66 218.12,235.70 219.29,234.35 220.45,233.32 221.61,232.04 222.78,231.64 223.94,230.77 225.10,229.69 226.26,229.08 227.43,227.24 228.59,226.13 229.75,225.73 230.91,224.48 232.08,223.54 233.24,222.84 234.40,222.06 235.56,220.82 236.73,220.16 237.89,218.76 239.05,217.58 240.21,216.95 241.38,215.26 242.54,214.88 243.70,214.10 244.86,212.44 246.03,211.79 247.19,210.76 248.35,209.59 249.51,208.65 250.68,207.62 251.84,206.61 253.00,205.64 254.16,205.20 255.33,203.62 256.49,202.94 257.65,202.45 258.81,201.32 259.98,199.76 261.14,198.68 262.30,197.86 263.46,196.96 264.62,196.36 265.79,195.13 266.95,194.35 268.11,193.85 269.28,193.10 270.44,192.31 271.60,190.74 272.76,189.18 273.93,188.02 275.09,187.61 276.25,187.09 277.41,185.41 278.58,184.74 279.74,184.22 280.90,183.04 282.06,181.90 283.23,180.94 284.39,180.11 285.55,179.42 286.71,178.40 287.88,177.47 289.04,176.27 290.20,175.46 291.36,174.73 292.53,173.14 293.69,172.90 294.85,171.60" fill="none" stroke="#bfe6ae" stroke-width="2.6" stroke-linejoin="round" stroke-linecap="round" />
<polyline points="200.69,225.79 201.85,231.18 203.01,235.89 204.18,240.45 205.34,242.92 206.50,244.82 207.66,246.43 208.83,244.84 209.99,244.02 211.15,243.01 212.31,241.81 213.48,240.44 214.64,239.75 215.80,238.21 216.96,236.66 218.12,235.70 219.29,234.35 220.45,233.32 221.61,232.04 222.78,231.64 223.94,230.77 225.10,229.69 226.26,229.08 227.43,227.24 228.59,226.13 229.75,225.73 230.91,224.48 232.08,223.54 233.24,222.84 234.40,222.06 235.56,220.82 236.73,220.16 237.89,218.76 239.05,217.58 240.21,216.95 241.38,215.26 242.54,214.88 243.70,214.10 244.86,212.44 246.03,211.79 247.19,210.76 248.35,209.59 249.51,208.65 250.68,207.62 251.84,206.61 253.00,205.64 254.16,205.20 255.33,203.62 256.49,202.94 257.65,202.45 258.81,201.32 259.98,199.76 261.14,198.68 262.30,197.86 263.46,196.96 264.62,196.36 265.79,195.13 266.95,194.35 268.11,193.85 269.28,193.10 270.44,192.31 271.60,190.74 272.76,189.18 273.93,188.02 275.09,187.61 276.25,187.09 277.41,185.41 278.58,184.74 279.74,184.22 280.90,183.04 282.06,181.90 283.23,180.94 284.39,180.11 285.55,179.42 286.71,178.40 287.88,177.47 289.04,176.27 290.20,175.46 291.36,174.73 292.53,173.14 293.69,172.90 294.85,171.60" fill="none" stroke="#5a9e40" stroke-width="1.3" stroke-linejoin="round" stroke-linecap="round" stroke-dasharray="1.6 0.9"/>
<polyline points="200.69,225.33 201.85,231.80 203.01,237.05 204.18,240.66 205.34,244.05 206.50,245.33 207.66,245.84 208.83,245.54 209.99,243.77 211.15,242.45 212.31,241.00 213.48,239.26 214.64,237.70 215.80,237.00 216.96,235.57 218.12,234.32 219.29,232.88 220.45,232.72 221.61,231.04 222.78,230.47 223.94,229.79 225.10,228.35 226.26,226.74 227.43,225.19 228.59,224.55 229.75,223.15 230.91,222.85 232.08,221.08 233.24,220.41 234.40,219.27 235.56,218.67 236.73,217.97 237.89,217.17 239.05,215.53 240.21,214.16 241.38,212.60 242.54,211.20 243.70,210.46 244.86,209.07 246.03,208.61 247.19,207.07 248.35,206.51 249.51,204.90 250.68,204.20 251.84,203.31 253.00,202.24 254.16,201.76 255.33,201.03 256.49,199.60 257.65,198.12 258.81,197.64 259.98,196.50 261.14,195.44 262.30,193.89 263.46,192.29 264.62,192.03 265.79,190.91 266.95,190.37 268.11,188.80 269.28,187.26 270.44,186.21 271.60,185.34 272.76,185.07 273.93,184.44 275.09,183.48 276.25,182.69 277.41,181.75 278.58,179.77 279.74,178.93 280.90,177.34 282.06,176.16 283.23,175.03 284.39,173.79 285.55,172.91 286.71,172.41 287.88,171.56 289.04,170.76 290.20,170.32 291.36,169.64 292.53,168.19 293.69,166.98 294.85,165.30" fill="none" stroke="#9fd48a" stroke-width="2.6" stroke-linejoin="round" stroke-linecap="round" />
<polyline points="200.69,225.33 201.85,231.80 203.01,237.05 204.18,240.66 205.34,244.05 206.50,245.33 207.66,245.84 208.83,245.54 209.99,243.77 211.15,242.45 212.31,241.00 213.48,239.26 214.64,237.70 215.80,237.00 216.96,235.57 218.12,234.32 219.29,232.88 220.45,232.72 221.61,231.04 222.78,230.47 223.94,229.79 225.10,228.35 226.26,226.74 227.43,225.19 228.59,224.55 229.75,223.15 230.91,222.85 232.08,221.08 233.24,220.41 234.40,219.27 235.56,218.67 236.73,217.97 237.89,217.17 239.05,215.53 240.21,214.16 241.38,212.60 242.54,211.20 243.70,210.46 244.86,209.07 246.03,208.61 247.19,207.07 248.35,206.51 249.51,204.90 250.68,204.20 251.84,203.31 253.00,202.24 254.16,201.76 255.33,201.03 256.49,199.60 257.65,198.12 258.81,197.64 259.98,196.50 261.14,195.44 262.30,193.89 263.46,192.29 264.62,192.03 265.79,190.91 266.95,190.37 268.11,188.80 269.28,187.26 270.44,186.21 271.60,185.34 272.76,185.07 273.93,184.44 275.09,183.48 276.25,182.69 277.41,181.75 278.58,179.77 279.74,178.93 280.90,177.34 282.06,176.16 283.23,175.03 284.39,173.79 285.55,172.91 286.71,172.41 287.88,171.56 289.04,170.76 290.20,170.32 291.36,169.64 292.53,168.19 293.69,166.98 294.85,165.30" fill="none" stroke="#3a6e2a" stroke-width="1.3" stroke-linejoin="round" stroke-linecap="round" stroke-dasharray="1.6 0.9"/>
<polyline points="200.69,226.16 201.85,231.64 203.01,236.38 204.18,240.42 205.34,243.80 206.50,245.07 207.66,245.54 208.83,245.75" fill="none" stroke="#2433c8" stroke-width="1.9" stroke-linejoin="round" stroke-linecap="round" />
<polyline points="200.69,230.21 201.85,235.37 203.01,239.63 204.18,241.70 205.34,244.36 206.50,246.14 207.66,246.34 208.83,246.03" fill="none" stroke="#141414" stroke-width="1.7" stroke-linejoin="round" stroke-linecap="round" stroke-dasharray="1.4 0.8"/>
<text x="297.70" y="166.39" font-size="5.6" font-weight="bold" fill="#4a7f30">10.0 µM</text>
<text x="301.00" y="174.99" font-size="5.6" font-weight="bold" fill="#6aa84a">5.0 µM</text>
<text x="301.00" y="184.69" font-size="5.6" font-weight="bold" fill="#8cc0a0">2.0 µM</text>
<text x="301.00" y="198.69" font-size="5.6" font-weight="bold" fill="#b4e0d4">1.0 µM</text>
<line x1="321.00" y1="165.00" x2="321.00" y2="200.00" stroke="#8a8a8a" stroke-width="0.9" />
<text x="322.70" y="182.79" font-size="5.6" font-weight="bold" fill="#5a9a3a">M18-1<tspan font-size="3.6" dy="-2">wt</tspan></text>
<text x="298.00" y="207.79" font-size="5.6" font-weight="bold" fill="#111">control</text>
<text x="297.70" y="240.49" font-size="5.6" font-weight="bold" fill="#2433c8">cdV2</text>
<text x="351.98" y="150.65" font-size="12.3" font-weight="bold" fill="#000">E</text>
<line x1="364.60" y1="160.14" x2="364.60" y2="247.60" stroke="#8c8c8c" stroke-width="0.8" />
<line x1="363.10" y1="246.60" x2="364.60" y2="246.60" stroke="#8c8c8c" stroke-width="0.6" />
<line x1="363.10" y1="235.98" x2="364.60" y2="235.98" stroke="#8c8c8c" stroke-width="0.6" />
<line x1="363.10" y1="225.36" x2="364.60" y2="225.36" stroke="#8c8c8c" stroke-width="0.6" />
<line x1="363.10" y1="214.74" x2="364.60" y2="214.74" stroke="#8c8c8c" stroke-width="0.6" />
<line x1="363.10" y1="204.12" x2="364.60" y2="204.12" stroke="#8c8c8c" stroke-width="0.6" />
<line x1="363.10" y1="193.50" x2="364.60" y2="193.50" stroke="#8c8c8c" stroke-width="0.6" />
<line x1="363.10" y1="182.88" x2="364.60" y2="182.88" stroke="#8c8c8c" stroke-width="0.6" />
<line x1="363.10" y1="172.26" x2="364.60" y2="172.26" stroke="#8c8c8c" stroke-width="0.6" />
<line x1="363.10" y1="161.64" x2="364.60" y2="161.64" stroke="#8c8c8c" stroke-width="0.6" />
<text x="364.00" y="247.32" font-size="5.4" font-weight="bold" fill="#1e1e1e" text-anchor="end">0</text>
<text x="364.00" y="227.28" font-size="5.4" font-weight="bold" fill="#1e1e1e" text-anchor="end">4</text>
<text x="364.00" y="206.04" font-size="5.4" font-weight="bold" fill="#1e1e1e" text-anchor="end">8</text>
<text x="364.00" y="184.80" font-size="5.4" font-weight="bold" fill="#1e1e1e" text-anchor="end">12</text>
<text x="364.00" y="163.56" font-size="5.4" font-weight="bold" fill="#1e1e1e" text-anchor="end">16</text>
<line x1="364.60" y1="247.60" x2="463.55" y2="247.60" stroke="#b4b4b4" stroke-width="0.8" />
<line x1="383.58" y1="247.60" x2="383.58" y2="248.80" stroke="#9a9a9a" stroke-width="0.6" />
<text x="383.58" y="254.42" font-size="5.4" font-weight="bold" fill="#1e1e1e" text-anchor="middle">20</text>
<line x1="399.26" y1="247.60" x2="399.26" y2="248.80" stroke="#9a9a9a" stroke-width="0.6" />
<text x="399.26" y="254.42" font-size="5.4" font-weight="bold" fill="#1e1e1e" text-anchor="middle">40</text>
<line x1="414.94" y1="247.60" x2="414.94" y2="248.80" stroke="#9a9a9a" stroke-width="0.6" />
<text x="414.94" y="254.42" font-size="5.4" font-weight="bold" fill="#1e1e1e" text-anchor="middle">60</text>
<line x1="430.62" y1="247.60" x2="430.62" y2="248.80" stroke="#9a9a9a" stroke-width="0.6" />
<text x="430.62" y="254.42" font-size="5.4" font-weight="bold" fill="#1e1e1e" text-anchor="middle">80</text>
<line x1="446.30" y1="247.60" x2="446.30" y2="248.80" stroke="#9a9a9a" stroke-width="0.6" />
<text x="446.30" y="254.42" font-size="5.4" font-weight="bold" fill="#1e1e1e" text-anchor="middle">100</text>
<line x1="461.98" y1="247.60" x2="461.98" y2="248.80" stroke="#9a9a9a" stroke-width="0.6" />
<text x="461.98" y="254.42" font-size="5.4" font-weight="bold" fill="#1e1e1e" text-anchor="middle">120</text>
<text x="419.00" y="261.40" font-size="7.5" fill="#222" text-anchor="middle" textLength="37.7" lengthAdjust="spacingAndGlyphs">Time  (min)</text>
<rect x="383.30" y="160.40" width="33.70" height="42.80" fill="#fff" stroke="#b4b4b4" stroke-width="0.8" />
<line x1="382.10" y1="161.90" x2="383.30" y2="161.90" stroke="#888" stroke-width="0.5" />
<rect x="378.90" y="161.40" width="2.2" height="1" fill="#b0b0b0"/>
<line x1="382.10" y1="167.59" x2="383.30" y2="167.59" stroke="#888" stroke-width="0.5" />
<rect x="378.90" y="167.09" width="2.2" height="1" fill="#b0b0b0"/>
<line x1="382.10" y1="173.27" x2="383.30" y2="173.27" stroke="#888" stroke-width="0.5" />
<rect x="378.90" y="172.77" width="2.2" height="1" fill="#b0b0b0"/>
<line x1="382.10" y1="178.96" x2="383.30" y2="178.96" stroke="#888" stroke-width="0.5" />
<rect x="378.90" y="178.46" width="2.2" height="1" fill="#b0b0b0"/>
<line x1="382.10" y1="184.64" x2="383.30" y2="184.64" stroke="#888" stroke-width="0.5" />
<rect x="378.90" y="184.14" width="2.2" height="1" fill="#b0b0b0"/>
<line x1="382.10" y1="190.33" x2="383.30" y2="190.33" stroke="#888" stroke-width="0.5" />
<rect x="378.90" y="189.83" width="2.2" height="1" fill="#b0b0b0"/>
<line x1="382.10" y1="196.01" x2="383.30" y2="196.01" stroke="#888" stroke-width="0.5" />
<rect x="378.90" y="195.51" width="2.2" height="1" fill="#b0b0b0"/>
<line x1="382.10" y1="201.70" x2="383.30" y2="201.70" stroke="#888" stroke-width="0.5" />
<rect x="378.90" y="201.20" width="2.2" height="1" fill="#b0b0b0"/>
<text x="374.30" y="183.58" font-size="5.0" font-weight="bold" fill="#111" text-anchor="middle" textLength="42.79999999999998" lengthAdjust="spacingAndGlyphs" transform="rotate(-90 374.30 181.80)">Folds of activation</text>
<line x1="383.30" y1="183.80" x2="417.00" y2="183.80" stroke="#555" stroke-width="0.8" />
<rect x="384.10" y="168.20" width="4.70" height="15.60" fill="#4f9a2c" stroke="none" stroke-width="0.6" />
<line x1="386.45" y1="168.20" x2="386.45" y2="166.40" stroke="#222" stroke-width="0.6" />
<line x1="385.55" y1="166.40" x2="387.35" y2="166.40" stroke="#222" stroke-width="0.6" />
<rect x="398.70" y="182.80" width="2" height="2" fill="#663"/>
<rect x="405.00" y="183.80" width="4.00" height="3.80" fill="#e89a3a" stroke="none" stroke-width="0.6" />
<line x1="407.00" y1="187.60" x2="407.00" y2="188.80" stroke="#222" stroke-width="0.6" />
<line x1="406.10" y1="188.80" x2="407.90" y2="188.80" stroke="#222" stroke-width="0.6" />
<rect x="411.80" y="183.80" width="4.30" height="11.20" fill="#d8321c" stroke="none" stroke-width="0.6" />
<line x1="413.95" y1="195.00" x2="413.95" y2="196.40" stroke="#222" stroke-width="0.6" />
<line x1="413.05" y1="196.40" x2="414.85" y2="196.40" stroke="#222" stroke-width="0.6" />
<line x1="395.40" y1="196.20" x2="417.00" y2="196.20" stroke="#333" stroke-width="0.7" />
<polygon points="406.30,197.50 406.88,198.90 408.39,199.02 407.24,200.01 407.59,201.48 406.30,200.69 405.01,201.48 405.36,200.01 404.21,199.02 405.72,198.90" fill="#111"/>
<polyline points="368.29,241.00 369.47,242.87 370.64,243.94 371.82,244.44 373.00,245.84 374.17,246.86 375.35,247.35 376.52,246.77 377.70,247.29 378.88,246.62 380.05,246.33 381.23,246.97 382.40,246.70 383.58,246.66 384.76,246.67 385.93,245.72 387.11,246.56 388.28,247.15 389.46,246.01 390.64,246.15 391.81,246.52 392.99,246.50 394.16,246.39 395.34,245.34 396.52,245.86 397.69,246.11 398.87,245.64 400.04,245.36 401.22,244.50 402.40,244.12 403.57,244.61 404.75,245.09 405.92,244.31 407.10,243.55 408.28,244.56 409.45,243.98 410.63,243.36 411.80,243.28 412.98,243.85 414.16,243.21 415.33,242.86 416.51,243.44 417.68,243.01 418.86,243.35 420.04,243.76 421.21,243.47 422.39,243.22 423.56,242.90 424.74,242.22 425.92,241.44 427.09,240.69 428.27,240.14 429.44,239.69 430.62,239.67 431.80,240.34 432.97,240.86 434.15,240.38 435.32,240.12 436.50,239.67 437.68,240.23 438.85,240.32 440.03,239.12 441.20,238.82 442.38,238.39 443.56,238.99 444.73,238.76 445.91,237.72 447.08,237.40 448.26,236.57 449.44,237.23 450.61,237.11 451.79,236.38 452.96,236.41 454.14,235.77 455.32,235.63 456.49,236.15 457.67,236.38 458.84,235.00 460.02,235.43 461.20,235.46" fill="none" stroke="#2433c8" stroke-width="1.8" stroke-linejoin="round" stroke-linecap="round" />
<polyline points="368.29,242.89 369.47,244.08 370.64,244.94 371.82,244.91 373.00,245.57 374.17,245.77 375.35,246.72 376.52,246.75 377.70,246.10 378.88,245.64 380.05,244.57 381.23,243.77 382.40,243.68 383.58,243.86 384.76,242.74 385.93,242.62 387.11,242.45 388.28,241.16 389.46,239.99 390.64,239.04 391.81,238.06 392.99,238.16 394.16,238.12 395.34,237.78 396.52,236.22 397.69,236.13 398.87,235.74 400.04,235.43 401.22,234.93 402.40,234.38 403.57,233.39 404.75,232.76 405.92,231.93 407.10,230.38 408.28,230.14 409.45,228.91 410.63,228.00 411.80,227.39 412.98,226.75 414.16,225.85 415.33,225.26 416.51,225.10 417.68,224.60 418.86,224.13 420.04,223.38 421.21,221.91 422.39,221.47 423.56,221.38 424.74,220.54 425.92,219.32 427.09,218.79 428.27,217.87 429.44,217.82 430.62,217.54 431.80,216.34 432.97,216.12 434.15,215.39 435.32,214.57 436.50,214.04 437.68,213.65 438.85,213.17 440.03,211.40 441.20,210.40 442.38,209.18 443.56,208.75 444.73,207.63 445.91,206.79 447.08,206.32 448.26,205.88 449.44,205.35 450.61,205.11 451.79,204.50 452.96,203.41 454.14,203.14 455.32,201.87 456.49,201.25 457.67,200.48 458.84,199.46 460.02,198.79 461.20,198.75" fill="none" stroke="#141414" stroke-width="1.6" stroke-linejoin="round" stroke-linecap="round" />
<polyline points="368.29,242.26 369.47,243.17 370.64,243.74 371.82,244.99 373.00,245.41 374.17,245.46 375.35,245.50 376.52,246.43 377.70,246.11 378.88,245.45 380.05,244.95 381.23,243.81 382.40,243.43 383.58,243.06 384.76,241.95 385.93,241.43 387.11,241.29 388.28,240.95 389.46,240.25 390.64,240.15 391.81,239.14 392.99,238.11 394.16,237.64 395.34,236.57 396.52,235.58 397.69,235.21 398.87,234.57 400.04,234.66 401.22,234.54 402.40,233.04 403.57,232.78 404.75,232.46 405.92,231.15 407.10,230.30 408.28,230.34 409.45,229.86 410.63,229.42 411.80,228.87 412.98,228.63 414.16,227.58 415.33,226.97 416.51,226.25 417.68,225.83 418.86,225.42 420.04,225.03 421.21,223.47 422.39,222.44 423.56,221.82 424.74,221.75 425.92,221.42 427.09,221.02 428.27,220.27 429.44,219.90 430.62,219.16 431.80,218.55 432.97,217.95 434.15,216.75 435.32,216.03 436.50,215.33 437.68,214.81 438.85,214.01 440.03,212.97 441.20,212.70 442.38,212.60 443.56,211.76 444.73,211.13 445.91,210.00 447.08,209.92 448.26,208.65 449.44,208.74 450.61,207.86 451.79,207.22 452.96,206.74 454.14,205.47 455.32,204.70 456.49,204.68 457.67,203.99 458.84,203.17 460.02,203.17 461.20,202.85" fill="none" stroke="#f3d3b3" stroke-width="1.6" stroke-linejoin="round" stroke-linecap="round" />
<polyline points="368.29,242.32 369.47,243.26 370.64,243.76 371.82,244.21 373.00,244.65 374.17,245.67 375.35,245.58 376.52,246.17 377.70,246.42 378.88,246.36 380.05,245.56 381.23,245.30 382.40,244.77 383.58,243.79 384.76,242.76 385.93,241.94 387.11,242.07 388.28,241.95 389.46,241.40 390.64,240.46 391.81,239.31 392.99,238.43 394.16,237.51 395.34,237.16 396.52,236.66 397.69,236.57 398.87,236.26 400.04,235.98 401.22,235.16 402.40,234.35 403.57,233.68 404.75,233.28 405.92,232.76 407.10,232.45 408.28,231.31 409.45,230.69 410.63,229.88 411.80,229.08 412.98,229.05 414.16,229.01 415.33,228.54 416.51,227.24 417.68,226.37 418.86,226.12 420.04,225.26 421.21,225.07 422.39,224.06 423.56,224.21 424.74,223.24 425.92,222.12 427.09,221.94 428.27,221.54 429.44,221.50 430.62,221.06 431.80,220.62 432.97,220.04 434.15,219.76 435.32,219.06 436.50,218.67 437.68,217.66 438.85,216.98 440.03,216.57 441.20,215.18 442.38,214.92 443.56,214.26 444.73,213.17 445.91,212.45 447.08,211.53 448.26,211.20 449.44,210.44 450.61,210.79 451.79,209.91 452.96,209.66 454.14,209.30 455.32,208.28 456.49,207.47 457.67,207.27 458.84,206.89 460.02,206.54 461.20,205.27" fill="none" stroke="#e3954a" stroke-width="1.6" stroke-linejoin="round" stroke-linecap="round" />
<polyline points="368.29,242.29 369.47,243.03 370.64,243.75 371.82,244.24 373.00,245.43 374.17,245.37 375.35,245.89 376.52,245.95 377.70,245.73 378.88,244.94 380.05,245.10 381.23,244.87 382.40,244.07 383.58,243.56 384.76,242.83 385.93,242.68 387.11,241.63 388.28,241.99 389.46,241.10 390.64,240.80 391.81,240.85 392.99,239.85 394.16,239.84 395.34,239.39 396.52,238.80 397.69,238.45 398.87,238.02 400.04,237.67 401.22,236.27 402.40,236.20 403.57,235.85 404.75,235.53 405.92,234.08 407.10,233.46 408.28,232.53 409.45,231.57 410.63,231.40 411.80,231.22 412.98,230.91 414.16,230.67 415.33,229.90 416.51,228.76 417.68,228.46 418.86,227.75 420.04,226.94 421.21,226.33 422.39,225.95 423.56,225.68 424.74,225.88 425.92,225.44 427.09,224.36 428.27,224.03 429.44,223.32 430.62,223.22 431.80,222.54 432.97,222.39 434.15,221.37 435.32,220.52 436.50,220.81 437.68,219.95 438.85,219.96 440.03,218.67 441.20,218.67 442.38,218.52 443.56,217.25 444.73,216.64 445.91,216.83 447.08,216.16 448.26,215.09 449.44,215.08 450.61,214.12 451.79,213.93 452.96,213.41 454.14,212.95 455.32,212.91 456.49,212.24 457.67,211.47 458.84,210.67 460.02,210.09 461.20,210.00" fill="none" stroke="#c8372a" stroke-width="1.6" stroke-linejoin="round" stroke-linecap="round" />
<polyline points="377.70,243.50 379.27,245.68 380.84,244.08 382.40,242.57 383.97,241.16 385.54,239.69 387.11,238.70 388.68,237.20 390.24,235.93 391.81,234.34 393.38,232.96 394.95,231.50 396.52,230.05 398.08,228.60 399.65,227.01 401.22,225.41 402.79,224.21 404.36,222.67 405.92,221.13 407.49,219.90 409.06,218.72 410.63,217.25 412.20,215.65 413.76,214.24 415.33,213.00 416.90,211.41 418.47,210.08 420.04,208.41 421.60,207.22 423.17,205.70 424.74,204.33 426.31,202.61 427.88,201.46 429.44,199.80 431.01,198.47 432.58,197.13 434.15,195.83 435.72,194.33 437.28,192.63 438.85,190.99 440.42,189.47 441.99,188.15 443.56,186.99 445.12,185.57 446.69,184.08 448.26,182.79 449.83,181.08 451.40,179.96 452.96,178.63 454.53,177.28 456.10,175.91 457.67,174.57 459.24,173.10 460.80,171.57 462.37,169.78 463.94,168.34 465.51,166.86" fill="none" stroke="#d4eac6" stroke-width="2.5" stroke-linejoin="round" stroke-linecap="round" />
<polyline points="377.70,243.50 379.27,245.68 380.84,244.08 382.40,242.57 383.97,241.16 385.54,239.69 387.11,238.70 388.68,237.20 390.24,235.93 391.81,234.34 393.38,232.96 394.95,231.50 396.52,230.05 398.08,228.60 399.65,227.01 401.22,225.41 402.79,224.21 404.36,222.67 405.92,221.13 407.49,219.90 409.06,218.72 410.63,217.25 412.20,215.65 413.76,214.24 415.33,213.00 416.90,211.41 418.47,210.08 420.04,208.41 421.60,207.22 423.17,205.70 424.74,204.33 426.31,202.61 427.88,201.46 429.44,199.80 431.01,198.47 432.58,197.13 434.15,195.83 435.72,194.33 437.28,192.63 438.85,190.99 440.42,189.47 441.99,188.15 443.56,186.99 445.12,185.57 446.69,184.08 448.26,182.79 449.83,181.08 451.40,179.96 452.96,178.63 454.53,177.28 456.10,175.91 457.67,174.57 459.24,173.10 460.80,171.57 462.37,169.78 463.94,168.34 465.51,166.86" fill="none" stroke="#4e8c3c" stroke-width="1.2" stroke-linejoin="round" stroke-linecap="round" stroke-dasharray="1.4 1.3"/>
<line x1="461.50" y1="195.50" x2="465.50" y2="188.60" stroke="#111" stroke-width="0.8" />
<text x="463.00" y="164.99" font-size="5.6" font-weight="bold" fill="#5a9a3a">2.5 µM M18-1<tspan font-size="3.6" dy="-2">wt</tspan></text>
<text x="464.60" y="185.59" font-size="5.6" font-weight="bold" fill="#111">control</text>
<text x="468.70" y="195.59" font-size="5.6" font-weight="bold" fill="#5a9a3a">2.5 µM M18-1<tspan font-size="3.6" dy="-2">wt</tspan><tspan dy="2"> +</tspan></text>
<line x1="470.00" y1="200.00" x2="466.40" y2="200.00" stroke="#333" stroke-width="0.7" />
<polygon points="464.40,200.00 466.40,198.90 466.40,201.10" fill="#333"/>
<line x1="470.00" y1="205.60" x2="466.40" y2="205.60" stroke="#333" stroke-width="0.7" />
<polygon points="464.40,205.60 466.40,204.50 466.40,206.70" fill="#333"/>
<line x1="470.00" y1="212.10" x2="466.40" y2="212.10" stroke="#333" stroke-width="0.7" />
<polygon points="464.40,212.10 466.40,211.00 466.40,213.20" fill="#333"/>
<text x="471.50" y="201.69" font-size="5.6" font-weight="bold" fill="#f0c49a">1.2 µM</text>
<text x="471.50" y="207.79" font-size="5.6" font-weight="bold" fill="#e0882e">2.5 µM</text>
<text x="471.50" y="213.99" font-size="5.6" font-weight="bold" fill="#c8372a">5.0 µM</text>
<line x1="491.00" y1="198.30" x2="491.00" y2="213.60" stroke="#444" stroke-width="0.8" />
<text x="494.60" y="205.39" font-size="5.6" font-weight="bold" fill="#bb3038">M18-1<tspan font-size="3.2" dy="-2">R405Q</tspan></text>
<text x="464.00" y="236.69" font-size="5.6" font-weight="bold" fill="#2433c8">cdV2</text>
<text x="0.08" y="286.25" font-size="12.3" font-weight="bold" fill="#000">F</text>
<circle cx="23.60" cy="305.50" r="7.20" fill="#fff" stroke="#dcc058" stroke-width="1.7"/>
<text x="23.60" y="307.49" font-size="5.6" font-weight="bold" fill="#1a1a1a" text-anchor="middle">V</text>
<line x1="33.50" y1="305.60" x2="35.70" y2="305.60" stroke="#222" stroke-width="1.0" />
<line x1="34.60" y1="304.50" x2="34.60" y2="306.70" stroke="#222" stroke-width="1.0" />
<circle cx="46.60" cy="305.50" r="7.20" fill="#fff" stroke="#3f52cc" stroke-width="1.7"/>
<text x="46.60" y="307.49" font-size="5.6" font-weight="bold" fill="#1a1a1a" text-anchor="middle">T</text>
<line x1="55.50" y1="305.50" x2="58.60" y2="305.50" stroke="#222" stroke-width="0.8" />
<polygon points="60.60,305.50 58.60,306.70 58.60,304.30" fill="#222"/>
<line x1="58.00" y1="293.50" x2="58.00" y2="299.40" stroke="#222" stroke-width="0.7" />
<polygon points="58.00,301.60 56.80,299.40 59.20,299.40" fill="#222"/>
<text x="46.9" y="292.2" font-size="5.6" font-weight="bold" fill="#d83a4a" textLength="20" lengthAdjust="spacingAndGlyphs">Munc18</text>
<text x="68.5" y="289.6" font-size="3.8" font-weight="bold" fill="#d83a4a" textLength="11" lengthAdjust="spacingAndGlyphs">R405Q</text>
<rect x="61.40" y="298.70" width="24.20" height="13.80" fill="#c9d7f1" stroke="none" stroke-width="0.6" />
<text x="73.50" y="304.83" font-size="5.6" font-weight="bold" fill="#1a1a3a" text-anchor="middle">4°C</text>
<text x="73.50" y="310.62" font-size="5.6" font-weight="bold" fill="#1a1a3a" text-anchor="middle">1hs</text>
<line x1="87.80" y1="306.00" x2="94.20" y2="306.00" stroke="#222" stroke-width="0.8" />
<polygon points="96.40,306.00 94.20,307.30 94.20,304.70" fill="#222"/>
<line x1="94.70" y1="293.80" x2="94.70" y2="300.30" stroke="#222" stroke-width="0.7" />
<polygon points="94.70,302.50 93.50,300.30 95.90,300.30" fill="#222"/>
<text x="88.5" y="292.2" font-size="5.6" font-weight="bold" fill="#6aaa4a" textLength="20" lengthAdjust="spacingAndGlyphs">Munc18</text>
<text x="110" y="289.6" font-size="3.6" font-weight="bold" fill="#6aaa4a" textLength="4" lengthAdjust="spacingAndGlyphs">WT</text>
<rect x="99.90" y="298.20" width="23.70" height="14.30" fill="#c9d7f1" stroke="none" stroke-width="0.6" />
<text x="111.75" y="304.48" font-size="5.6" font-weight="bold" fill="#1a1a3a" text-anchor="middle">4°C</text>
<text x="111.75" y="310.48" font-size="5.6" font-weight="bold" fill="#1a1a3a" text-anchor="middle">2hs</text>
<line x1="125.80" y1="305.80" x2="131.00" y2="305.80" stroke="#222" stroke-width="0.8" />
<polygon points="133.20,305.80 131.00,307.10 131.00,304.50" fill="#222"/>
<rect x="135.40" y="298.20" width="24.20" height="14.30" fill="#dca3cf" stroke="none" stroke-width="0.6" />
<text x="147.50" y="304.48" font-size="5.6" font-weight="bold" fill="#3a1a3a" text-anchor="middle">37°C</text>
<text x="147.50" y="310.48" font-size="5.6" font-weight="bold" fill="#3a1a3a" text-anchor="middle">fusion</text>
<line x1="26.20" y1="315.78" x2="26.20" y2="406.60" stroke="#8c8c8c" stroke-width="0.8" />
<line x1="24.70" y1="405.60" x2="26.20" y2="405.60" stroke="#8c8c8c" stroke-width="0.6" />
<line x1="24.70" y1="394.56" x2="26.20" y2="394.56" stroke="#8c8c8c" stroke-width="0.6" />
<line x1="24.70" y1="383.52" x2="26.20" y2="383.52" stroke="#8c8c8c" stroke-width="0.6" />
<line x1="24.70" y1="372.48" x2="26.20" y2="372.48" stroke="#8c8c8c" stroke-width="0.6" />
<line x1="24.70" y1="361.44" x2="26.20" y2="361.44" stroke="#8c8c8c" stroke-width="0.6" />
<line x1="24.70" y1="350.40" x2="26.20" y2="350.40" stroke="#8c8c8c" stroke-width="0.6" />
<line x1="24.70" y1="339.36" x2="26.20" y2="339.36" stroke="#8c8c8c" stroke-width="0.6" />
<line x1="24.70" y1="328.32" x2="26.20" y2="328.32" stroke="#8c8c8c" stroke-width="0.6" />
<line x1="24.70" y1="317.28" x2="26.20" y2="317.28" stroke="#8c8c8c" stroke-width="0.6" />
<text x="23.80" y="406.32" font-size="5.4" font-weight="bold" fill="#1e1e1e" text-anchor="end">0</text>
<text x="23.80" y="385.44" font-size="5.4" font-weight="bold" fill="#1e1e1e" text-anchor="end">4</text>
<text x="23.80" y="363.36" font-size="5.4" font-weight="bold" fill="#1e1e1e" text-anchor="end">8</text>
<text x="23.80" y="341.28" font-size="5.4" font-weight="bold" fill="#1e1e1e" text-anchor="end">12</text>
<text x="23.80" y="319.20" font-size="5.4" font-weight="bold" fill="#1e1e1e" text-anchor="end">16</text>
<line x1="26.20" y1="406.60" x2="124.60" y2="406.60" stroke="#b4b4b4" stroke-width="0.8" />
<line x1="44.84" y1="406.60" x2="44.84" y2="407.80" stroke="#9a9a9a" stroke-width="0.6" />
<text x="44.84" y="413.42" font-size="5.4" font-weight="bold" fill="#1e1e1e" text-anchor="middle">20</text>
<line x1="60.48" y1="406.60" x2="60.48" y2="407.80" stroke="#9a9a9a" stroke-width="0.6" />
<text x="60.48" y="413.42" font-size="5.4" font-weight="bold" fill="#1e1e1e" text-anchor="middle">40</text>
<line x1="76.12" y1="406.60" x2="76.12" y2="407.80" stroke="#9a9a9a" stroke-width="0.6" />
<text x="76.12" y="413.42" font-size="5.4" font-weight="bold" fill="#1e1e1e" text-anchor="middle">60</text>
<line x1="91.76" y1="406.60" x2="91.76" y2="407.80" stroke="#9a9a9a" stroke-width="0.6" />
<text x="91.76" y="413.42" font-size="5.4" font-weight="bold" fill="#1e1e1e" text-anchor="middle">80</text>
<line x1="107.40" y1="406.60" x2="107.40" y2="407.80" stroke="#9a9a9a" stroke-width="0.6" />
<text x="107.40" y="413.42" font-size="5.4" font-weight="bold" fill="#1e1e1e" text-anchor="middle">100</text>
<line x1="123.04" y1="406.60" x2="123.04" y2="407.80" stroke="#9a9a9a" stroke-width="0.6" />
<text x="123.04" y="413.42" font-size="5.4" font-weight="bold" fill="#1e1e1e" text-anchor="middle">120</text>
<text x="80.40" y="420.80" font-size="7.5" fill="#222" text-anchor="middle" textLength="37.7" lengthAdjust="spacingAndGlyphs">Time  (min)</text>
<text x="3.60" y="364.00" font-size="7.2" fill="#333" text-anchor="middle" textLength="42.6" lengthAdjust="spacingAndGlyphs" transform="rotate(-90 3.60 361.44)">Lipid  Mixing</text>
<text x="12.00" y="364.00" font-size="7.2" fill="#333" text-anchor="middle" textLength="75.8" lengthAdjust="spacingAndGlyphs" transform="rotate(-90 12.00 361.44)">( % max fluorescence)</text>
<rect x="45.80" y="319.50" width="37.20" height="45.00" fill="#fff" stroke="#b4b4b4" stroke-width="0.8" />
<line x1="44.60" y1="321.00" x2="45.80" y2="321.00" stroke="#888" stroke-width="0.5" />
<rect x="41.40" y="320.50" width="2.2" height="1" fill="#b0b0b0"/>
<line x1="44.60" y1="327.00" x2="45.80" y2="327.00" stroke="#888" stroke-width="0.5" />
<rect x="41.40" y="326.50" width="2.2" height="1" fill="#b0b0b0"/>
<line x1="44.60" y1="333.00" x2="45.80" y2="333.00" stroke="#888" stroke-width="0.5" />
<rect x="41.40" y="332.50" width="2.2" height="1" fill="#b0b0b0"/>
<line x1="44.60" y1="339.00" x2="45.80" y2="339.00" stroke="#888" stroke-width="0.5" />
<rect x="41.40" y="338.50" width="2.2" height="1" fill="#b0b0b0"/>
<line x1="44.60" y1="345.00" x2="45.80" y2="345.00" stroke="#888" stroke-width="0.5" />
<rect x="41.40" y="344.50" width="2.2" height="1" fill="#b0b0b0"/>
<line x1="44.60" y1="351.00" x2="45.80" y2="351.00" stroke="#888" stroke-width="0.5" />
<rect x="41.40" y="350.50" width="2.2" height="1" fill="#b0b0b0"/>
<line x1="44.60" y1="357.00" x2="45.80" y2="357.00" stroke="#888" stroke-width="0.5" />
<rect x="41.40" y="356.50" width="2.2" height="1" fill="#b0b0b0"/>
<line x1="44.60" y1="363.00" x2="45.80" y2="363.00" stroke="#888" stroke-width="0.5" />
<rect x="41.40" y="362.50" width="2.2" height="1" fill="#b0b0b0"/>
<text x="36.80" y="343.77" font-size="5.0" font-weight="bold" fill="#111" text-anchor="middle" textLength="45.0" lengthAdjust="spacingAndGlyphs" transform="rotate(-90 36.80 342.00)">Folds of activation</text>
<line x1="45.80" y1="329.90" x2="83.00" y2="329.90" stroke="#555" stroke-width="0.8" />
<rect x="47.60" y="329.90" width="5.20" height="16.40" fill="#d8321c" stroke="none" stroke-width="0.6" />
<line x1="50.20" y1="346.30" x2="50.20" y2="348.30" stroke="#222" stroke-width="0.6" />
<line x1="49.30" y1="348.30" x2="51.10" y2="348.30" stroke="#222" stroke-width="0.6" />
<rect x="55.40" y="329.90" width="4.30" height="13.80" fill="#f0faf0" stroke="#7ab07a" stroke-width="0.6" />
<line x1="57.55" y1="343.70" x2="57.55" y2="345.70" stroke="#222" stroke-width="0.6" />
<line x1="56.65" y1="345.70" x2="58.45" y2="345.70" stroke="#222" stroke-width="0.6" />
<rect x="62.30" y="329.90" width="4.30" height="6.90" fill="#8ed4a0" stroke="none" stroke-width="0.6" />
<line x1="64.45" y1="336.80" x2="64.45" y2="338.00" stroke="#222" stroke-width="0.6" />
<line x1="63.55" y1="338.00" x2="65.35" y2="338.00" stroke="#222" stroke-width="0.6" />
<rect x="69.20" y="329.90" width="5.20" height="4.30" fill="#4a8a2a" stroke="none" stroke-width="0.6" />
<line x1="71.80" y1="334.20" x2="71.80" y2="335.40" stroke="#222" stroke-width="0.6" />
<line x1="70.90" y1="335.40" x2="72.70" y2="335.40" stroke="#222" stroke-width="0.6" />
<line x1="62.30" y1="349.40" x2="75.30" y2="349.40" stroke="#333" stroke-width="0.7" />
<polygon points="68.90,350.20 69.48,351.60 70.99,351.72 69.84,352.71 70.19,354.18 68.90,353.39 67.61,354.18 67.96,352.71 66.81,351.72 68.32,351.60" fill="#111"/>
<polyline points="29.59,399.19 30.76,401.19 31.94,402.93 33.11,402.99 34.28,403.85 35.46,404.32 36.63,404.91 37.80,405.53 38.98,405.13 40.15,405.01 41.32,404.51 42.49,404.37 43.67,403.90 44.84,404.27 46.01,404.93 47.19,405.28 48.36,404.41 49.53,404.81 50.70,404.13 51.88,403.72 53.05,404.41 54.22,403.47 55.40,404.18 56.57,403.07 57.74,402.39 58.92,403.03 60.09,402.44 61.26,402.02 62.44,402.78 63.61,402.21 64.78,402.78 65.95,401.66 67.13,401.32 68.30,400.55 69.47,401.66 70.65,401.79 71.82,401.28 72.99,400.93 74.17,401.42 75.34,400.40 76.51,399.80 77.68,400.34 78.86,400.88 80.03,400.22 81.20,400.22 82.38,399.71 83.55,399.65 84.72,399.72 85.89,400.36 87.07,400.48 88.24,399.92 89.41,399.05 90.59,399.00 91.76,398.35 92.93,398.25 94.11,397.54 95.28,397.44 96.45,397.91 97.62,398.46 98.80,398.85 99.97,399.08 101.14,397.69 102.32,396.78 103.49,396.39 104.66,397.23 105.84,396.70 107.01,397.26 108.18,396.19 109.36,395.90 110.53,395.50 111.70,395.45 112.87,395.69 114.05,395.02 115.22,394.35 116.39,395.16 117.57,395.24 118.74,394.70 119.91,394.42 121.09,394.66 122.26,394.67" fill="none" stroke="#2433c8" stroke-width="1.8" stroke-linejoin="round" stroke-linecap="round" />
<polyline points="29.59,402.10 30.76,403.61 31.94,404.40 33.11,405.11 34.28,404.97 35.46,405.04 36.63,404.83 37.80,405.75 38.98,405.68 40.15,405.81 41.32,405.48 42.49,404.73 43.67,404.76 44.84,404.39 46.01,403.40 47.19,402.79 48.36,402.69 49.53,401.98 50.70,401.10 51.88,401.47 53.05,400.47 54.22,399.85 55.40,399.80 56.57,399.84 57.74,398.65 58.92,398.59 60.09,398.72 61.26,398.62 62.44,397.41 63.61,396.85 64.78,396.07 65.95,395.55 67.13,395.33 68.30,394.46 69.47,394.56 70.65,394.23 71.82,393.50 72.99,393.18 74.17,392.51 75.34,392.31 76.51,391.87 77.68,392.31 78.86,392.18 80.03,391.85 81.20,391.77 82.38,391.36 83.55,391.12 84.72,390.58 85.89,389.62 87.07,389.24 88.24,388.85 89.41,388.66 90.59,388.31 91.76,387.05 92.93,386.51 94.11,386.08 95.28,386.24 96.45,385.43 97.62,385.54 98.80,385.15 99.97,383.95 101.14,383.53 102.32,383.22 103.49,382.71 104.66,382.03 105.84,381.55 107.01,381.82 108.18,382.08 109.36,381.70 110.53,381.38 111.70,381.09 112.87,379.79 114.05,378.94 115.22,379.01 116.39,378.43 117.57,378.27 118.74,377.33 119.91,377.20 121.09,377.22 122.26,377.09" fill="none" stroke="#c8372a" stroke-width="1.6" stroke-linejoin="round" stroke-linecap="round" />
<polyline points="29.59,402.90 30.76,403.20 31.94,404.33 33.11,404.74 34.28,404.84 35.46,404.81 36.63,405.27 37.80,405.47 38.98,406.01 40.15,405.38 41.32,404.89 42.49,403.76 43.67,403.29 44.84,402.54 46.01,402.32 47.19,402.33 48.36,401.25 49.53,400.45 50.70,400.36 51.88,400.48 53.05,399.81 54.22,399.23 55.40,398.32 56.57,397.81 57.74,397.43 58.92,396.92 60.09,396.67 61.26,396.77 62.44,396.61 63.61,395.16 64.78,394.22 65.95,394.19 67.13,393.19 68.30,392.87 69.47,393.05 70.65,391.96 71.82,391.47 72.99,390.52 74.17,390.09 75.34,390.41 76.51,389.71 77.68,388.87 78.86,388.03 80.03,388.08 81.20,387.65 82.38,386.97 83.55,387.07 84.72,386.04 85.89,385.31 87.07,385.65 88.24,384.93 89.41,384.61 90.59,384.46 91.76,383.62 92.93,382.44 94.11,382.08 95.28,382.26 96.45,381.66 97.62,380.73 98.80,379.74 99.97,379.27 101.14,379.69 102.32,378.52 103.49,378.10 104.66,378.34 105.84,378.23 107.01,378.03 108.18,376.94 109.36,376.77 110.53,375.61 111.70,375.64 112.87,374.90 114.05,374.38 115.22,374.41 116.39,374.28 117.57,372.81 118.74,371.64 119.91,371.87 121.09,371.00 122.26,369.95" fill="none" stroke="#b8e6cc" stroke-width="1.6" stroke-linejoin="round" stroke-linecap="round" />
<polyline points="29.59,402.41 30.76,403.11 31.94,403.32 33.11,404.52 34.28,405.29 35.46,406.09 36.63,406.49 37.80,406.85 38.98,406.62 40.15,405.53 41.32,404.00 42.49,403.24 43.67,402.96 44.84,402.53 46.01,401.65 47.19,401.37 48.36,401.30 49.53,400.00 50.70,399.29 51.88,399.29 53.05,399.11 54.22,398.73 55.40,397.12 56.57,397.05 57.74,396.08 58.92,394.81 60.09,395.05 61.26,394.49 62.44,393.80 63.61,392.56 64.78,392.55 65.95,392.21 67.13,391.79 68.30,391.56 69.47,390.36 70.65,389.21 71.82,388.79 72.99,388.83 74.17,387.72 75.34,386.79 76.51,386.10 77.68,385.88 78.86,384.85 80.03,384.26 81.20,383.72 82.38,383.23 83.55,383.10 84.72,382.50 85.89,381.45 87.07,380.73 88.24,380.51 89.41,379.51 90.59,378.65 91.76,378.95 92.93,378.74 94.11,378.30 95.28,378.07 96.45,376.71 97.62,375.81 98.80,375.16 99.97,373.94 101.14,373.82 102.32,373.72 103.49,373.53 104.66,372.88 105.84,371.60 107.01,370.90 108.18,370.97 109.36,370.27 110.53,370.13 111.70,369.05 112.87,368.83 114.05,368.38 115.22,367.26 116.39,366.10 117.57,365.45 118.74,365.26 119.91,364.44 121.09,364.20 122.26,364.18" fill="none" stroke="#8cc88a" stroke-width="1.6" stroke-linejoin="round" stroke-linecap="round" />
<polyline points="29.59,402.59 30.76,403.29 31.94,404.46 33.11,404.99 34.28,405.78 35.46,406.41 36.63,406.46 37.80,406.69 38.98,406.30 40.15,404.94 41.32,404.80 42.49,403.66 43.67,403.37 44.84,402.05 46.01,401.07 47.19,400.91 48.36,399.70 49.53,398.88 50.70,398.98 51.88,398.33 53.05,397.28 54.22,396.09 55.40,396.11 56.57,395.74 57.74,394.57 58.92,393.34 60.09,393.50 61.26,393.33 62.44,392.08 63.61,391.64 64.78,391.02 65.95,389.73 67.13,388.86 68.30,388.19 69.47,387.24 70.65,386.59 71.82,385.83 72.99,385.32 74.17,384.82 75.34,384.96 76.51,383.65 77.68,382.60 78.86,382.44 80.03,381.71 81.20,381.82 82.38,380.98 83.55,380.04 84.72,379.65 85.89,378.99 87.07,377.77 88.24,377.68 89.41,376.95 90.59,376.74 91.76,375.95 92.93,374.55 94.11,373.80 95.28,373.85 96.45,372.52 97.62,371.72 98.80,371.16 99.97,370.86 101.14,370.40 102.32,370.01 103.49,368.93 104.66,368.77 105.84,367.22 107.01,367.15 108.18,366.14 109.36,365.33 110.53,364.87 111.70,364.43 112.87,363.69 114.05,363.13 115.22,361.67 116.39,360.96 117.57,360.44 118.74,359.66 119.91,359.16 121.09,359.04 122.26,358.88" fill="none" stroke="#5a9e3a" stroke-width="1.6" stroke-linejoin="round" stroke-linecap="round" />
<polyline points="29.59,401.77 30.76,402.92 31.94,403.57 33.11,403.76 34.28,404.84 35.46,405.17 36.63,405.32 37.80,404.91 38.98,405.63 40.15,405.50 41.32,404.82 42.49,403.47 43.67,402.37 44.84,402.37 46.01,401.05 47.19,400.51 48.36,399.32 49.53,398.37 50.70,398.64 51.88,397.35 53.05,396.94 54.22,396.85 55.40,396.09 56.57,395.87 57.74,394.56 58.92,393.76 60.09,393.57 61.26,393.00 62.44,392.01 63.61,390.76 64.78,390.39 65.95,390.09 67.13,389.30 68.30,388.91 69.47,388.02 70.65,386.49 71.82,386.19 72.99,385.56 74.17,384.26 75.34,383.94 76.51,383.57 77.68,382.87 78.86,381.68 80.03,380.53 81.20,379.59 82.38,379.54 83.55,378.92 84.72,378.47 85.89,377.31 87.07,376.57 88.24,375.32 89.41,374.51 90.59,373.71 91.76,373.47 92.93,372.53 94.11,372.30 95.28,371.81 96.45,370.21 97.62,369.86 98.80,369.57 99.97,368.15 101.14,367.69 102.32,366.97 103.49,365.86 104.66,364.41 105.84,364.45 107.01,363.34 108.18,363.18 109.36,361.80 110.53,361.21 111.70,360.92 112.87,360.04 114.05,358.86 115.22,358.52 116.39,357.69 117.57,356.36 118.74,355.20 119.91,354.32" fill="none" stroke="#141414" stroke-width="1.6" stroke-linejoin="round" stroke-linecap="round" />
<polyline points="120.70,354.50 123.50,351.50 126.50,346.00" fill="none" stroke="#141414" stroke-width="1.2" stroke-linejoin="round" stroke-linecap="round" />
<line x1="127.60" y1="358.50" x2="125.54" y2="357.96" stroke="#222" stroke-width="0.7" />
<polygon points="123.80,357.50 125.80,356.99 125.29,358.93" fill="#222"/>
<line x1="127.60" y1="364.70" x2="125.54" y2="364.16" stroke="#222" stroke-width="0.7" />
<polygon points="123.80,363.70 125.80,363.19 125.29,365.13" fill="#222"/>
<line x1="127.60" y1="370.40" x2="125.54" y2="369.86" stroke="#222" stroke-width="0.7" />
<polygon points="123.80,369.40 125.80,368.89 125.29,370.83" fill="#222"/>
<line x1="121.20" y1="380.80" x2="124.40" y2="386.80" stroke="#222" stroke-width="0.7" />
<text x="127.20" y="344.39" font-size="5.6" font-weight="bold" fill="#111">control</text>
<text x="125.70" y="355.39" font-size="5.6" font-weight="bold" fill="#bb3038">2.5 µM M18-1<tspan font-size="3.2" dy="-2">R405Q</tspan><tspan dy="2"> +</tspan></text>
<text x="129.40" y="361.29" font-size="5.6" font-weight="bold" fill="#5a9e3a">10.0 µM</text>
<text x="129.40" y="368.19" font-size="5.6" font-weight="bold" fill="#a4d49a">5.0 µM</text>
<text x="129.40" y="375.89" font-size="5.6" font-weight="bold" fill="#cdeccf">2.0 µM</text>
<line x1="150.40" y1="360.00" x2="150.40" y2="374.80" stroke="#8a8a8a" stroke-width="0.9" />
<text x="151.80" y="365.79" font-size="5.6" font-weight="bold" fill="#5a9a3a">M18-1<tspan font-size="3.6" dy="-2">wt</tspan></text>
<text x="124.80" y="390.89" font-size="5.6" font-weight="bold" fill="#bb3038">2.5 µM M18-1<tspan font-size="3.2" dy="-2">R405Q</tspan></text>
<text x="125.30" y="397.79" font-size="5.6" font-weight="bold" fill="#2433c8">cdV2</text>
<text x="186.70" y="285.95" font-size="12.3" font-weight="bold" fill="#000">G</text>
<text x="202.60" y="291.00" font-size="5.6" font-weight="bold" fill="#6aaa4a" textLength="20.8" lengthAdjust="spacingAndGlyphs">Munc18</text>
<text x="225.00" y="288.40" font-size="3.6" font-weight="bold" fill="#6aaa4a" textLength="4.2" lengthAdjust="spacingAndGlyphs">WT</text>
<text x="232.00" y="291.30" font-size="5.8" font-weight="bold" fill="#111" textLength="5.0" lengthAdjust="spacingAndGlyphs">or</text>
<text x="239.40" y="288.40" font-size="3.8" font-weight="bold" fill="#e04a4a" textLength="10.2" lengthAdjust="spacingAndGlyphs">R405Q</text>
<circle cx="214.10" cy="306.00" r="7.30" fill="#fff" stroke="#3f52cc" stroke-width="1.7"/>
<text x="214.10" y="307.99" font-size="5.6" font-weight="bold" fill="#1a1a1a" text-anchor="middle">T</text>
<line x1="225.20" y1="294.50" x2="225.20" y2="300.30" stroke="#222" stroke-width="0.7" />
<polygon points="225.20,302.50 224.00,300.30 226.40,300.30" fill="#222"/>
<line x1="223.00" y1="306.00" x2="227.10" y2="306.00" stroke="#222" stroke-width="0.8" />
<polygon points="229.10,306.00 227.10,307.20 227.10,304.80" fill="#222"/>
<rect x="230.00" y="299.40" width="21.10" height="12.60" fill="#c9d7f1" stroke="none" stroke-width="0.6" />
<text x="240.55" y="305.17" font-size="5.6" font-weight="bold" fill="#1a1a3a" text-anchor="middle">4°C</text>
<text x="240.55" y="310.46" font-size="5.6" font-weight="bold" fill="#1a1a3a" text-anchor="middle">2hs</text>
<circle cx="259.90" cy="285.40" r="7.40" fill="#fff" stroke="#dcc058" stroke-width="1.7"/>
<text x="259.90" y="287.39" font-size="5.6" font-weight="bold" fill="#1a1a1a" text-anchor="middle">V</text>
<line x1="259.50" y1="295.50" x2="259.50" y2="300.30" stroke="#222" stroke-width="0.7" />
<polygon points="259.50,302.50 258.30,300.30 260.70,300.30" fill="#222"/>
<line x1="256.50" y1="305.60" x2="263.10" y2="305.60" stroke="#222" stroke-width="0.8" />
<polygon points="265.10,305.60 263.10,306.80 263.10,304.40" fill="#222"/>
<rect x="268.00" y="298.70" width="23.70" height="13.80" fill="#dca3cf" stroke="none" stroke-width="0.6" />
<text x="279.85" y="304.83" font-size="5.6" font-weight="bold" fill="#3a1a3a" text-anchor="middle">37°C</text>
<text x="279.85" y="310.62" font-size="5.6" font-weight="bold" fill="#3a1a3a" text-anchor="middle">fusion</text>
<line x1="199.20" y1="320.80" x2="199.20" y2="406.50" stroke="#8c8c8c" stroke-width="0.8" />
<line x1="197.70" y1="405.50" x2="199.20" y2="405.50" stroke="#8c8c8c" stroke-width="0.6" />
<line x1="197.70" y1="395.10" x2="199.20" y2="395.10" stroke="#8c8c8c" stroke-width="0.6" />
<line x1="197.70" y1="384.70" x2="199.20" y2="384.70" stroke="#8c8c8c" stroke-width="0.6" />
<line x1="197.70" y1="374.30" x2="199.20" y2="374.30" stroke="#8c8c8c" stroke-width="0.6" />
<line x1="197.70" y1="363.90" x2="199.20" y2="363.90" stroke="#8c8c8c" stroke-width="0.6" />
<line x1="197.70" y1="353.50" x2="199.20" y2="353.50" stroke="#8c8c8c" stroke-width="0.6" />
<line x1="197.70" y1="343.10" x2="199.20" y2="343.10" stroke="#8c8c8c" stroke-width="0.6" />
<line x1="197.70" y1="332.70" x2="199.20" y2="332.70" stroke="#8c8c8c" stroke-width="0.6" />
<line x1="197.70" y1="322.30" x2="199.20" y2="322.30" stroke="#8c8c8c" stroke-width="0.6" />
<text x="195.00" y="406.22" font-size="5.4" font-weight="bold" fill="#1e1e1e" text-anchor="end">0</text>
<text x="195.00" y="386.62" font-size="5.4" font-weight="bold" fill="#1e1e1e" text-anchor="end">4</text>
<text x="195.00" y="365.82" font-size="5.4" font-weight="bold" fill="#1e1e1e" text-anchor="end">8</text>
<text x="195.00" y="345.02" font-size="5.4" font-weight="bold" fill="#1e1e1e" text-anchor="end">12</text>
<text x="195.00" y="324.22" font-size="5.4" font-weight="bold" fill="#1e1e1e" text-anchor="end">16</text>
<line x1="199.20" y1="406.50" x2="297.56" y2="406.50" stroke="#b4b4b4" stroke-width="0.8" />
<line x1="216.16" y1="406.50" x2="216.16" y2="407.70" stroke="#9a9a9a" stroke-width="0.6" />
<text x="216.16" y="412.92" font-size="5.4" font-weight="bold" fill="#1e1e1e" text-anchor="middle">20</text>
<line x1="232.12" y1="406.50" x2="232.12" y2="407.70" stroke="#9a9a9a" stroke-width="0.6" />
<text x="232.12" y="412.92" font-size="5.4" font-weight="bold" fill="#1e1e1e" text-anchor="middle">40</text>
<line x1="248.08" y1="406.50" x2="248.08" y2="407.70" stroke="#9a9a9a" stroke-width="0.6" />
<text x="248.08" y="412.92" font-size="5.4" font-weight="bold" fill="#1e1e1e" text-anchor="middle">60</text>
<line x1="264.04" y1="406.50" x2="264.04" y2="407.70" stroke="#9a9a9a" stroke-width="0.6" />
<text x="264.04" y="412.92" font-size="5.4" font-weight="bold" fill="#1e1e1e" text-anchor="middle">80</text>
<line x1="280.00" y1="406.50" x2="280.00" y2="407.70" stroke="#9a9a9a" stroke-width="0.6" />
<text x="280.00" y="412.92" font-size="5.4" font-weight="bold" fill="#1e1e1e" text-anchor="middle">100</text>
<line x1="295.96" y1="406.50" x2="295.96" y2="407.70" stroke="#9a9a9a" stroke-width="0.6" />
<text x="295.96" y="412.92" font-size="5.4" font-weight="bold" fill="#1e1e1e" text-anchor="middle">120</text>
<text x="250.90" y="421.20" font-size="7.5" fill="#222" text-anchor="middle" textLength="37.7" lengthAdjust="spacingAndGlyphs">Time  (min)</text>
<rect x="216.60" y="316.60" width="33.40" height="38.10" fill="#fff" stroke="#b4b4b4" stroke-width="0.8" />
<line x1="215.40" y1="318.10" x2="216.60" y2="318.10" stroke="#888" stroke-width="0.5" />
<rect x="212.20" y="317.60" width="2.2" height="1" fill="#b0b0b0"/>
<line x1="215.40" y1="323.11" x2="216.60" y2="323.11" stroke="#888" stroke-width="0.5" />
<rect x="212.20" y="322.61" width="2.2" height="1" fill="#b0b0b0"/>
<line x1="215.40" y1="328.13" x2="216.60" y2="328.13" stroke="#888" stroke-width="0.5" />
<rect x="212.20" y="327.63" width="2.2" height="1" fill="#b0b0b0"/>
<line x1="215.40" y1="333.14" x2="216.60" y2="333.14" stroke="#888" stroke-width="0.5" />
<rect x="212.20" y="332.64" width="2.2" height="1" fill="#b0b0b0"/>
<line x1="215.40" y1="338.16" x2="216.60" y2="338.16" stroke="#888" stroke-width="0.5" />
<rect x="212.20" y="337.66" width="2.2" height="1" fill="#b0b0b0"/>
<line x1="215.40" y1="343.17" x2="216.60" y2="343.17" stroke="#888" stroke-width="0.5" />
<rect x="212.20" y="342.67" width="2.2" height="1" fill="#b0b0b0"/>
<line x1="215.40" y1="348.19" x2="216.60" y2="348.19" stroke="#888" stroke-width="0.5" />
<rect x="212.20" y="347.69" width="2.2" height="1" fill="#b0b0b0"/>
<line x1="215.40" y1="353.20" x2="216.60" y2="353.20" stroke="#888" stroke-width="0.5" />
<rect x="212.20" y="352.70" width="2.2" height="1" fill="#b0b0b0"/>
<text x="207.60" y="337.42" font-size="5.0" font-weight="bold" fill="#111" text-anchor="middle" textLength="38.099999999999966" lengthAdjust="spacingAndGlyphs" transform="rotate(-90 207.60 335.65)">Folds of activation</text>
<line x1="216.60" y1="328.80" x2="250.00" y2="328.80" stroke="#555" stroke-width="0.8" />
<rect x="221.80" y="327.80" width="2" height="2" fill="#222"/>
<rect x="232.20" y="327.80" width="2" height="2" fill="#222"/>
<rect x="240.30" y="328.80" width="7.50" height="9.70" fill="#e03a22" stroke="none" stroke-width="0.6" />
<line x1="244.05" y1="338.50" x2="244.05" y2="339.90" stroke="#222" stroke-width="0.6" />
<line x1="243.15" y1="339.90" x2="244.95" y2="339.90" stroke="#222" stroke-width="0.6" />
<polygon points="244.80,349.10 245.38,350.50 246.89,350.62 245.74,351.61 246.09,353.08 244.80,352.29 243.51,353.08 243.86,351.61 242.71,350.62 244.22,350.50" fill="#111"/>
<polyline points="200.60,397.50 201.80,398.11 202.99,399.19 204.19,399.28 205.39,400.33 206.58,400.82 207.78,400.88 208.98,401.81 210.17,401.87 211.37,402.40 212.57,403.12 213.77,403.61 214.96,404.08 216.16,404.67 217.36,404.07 218.55,404.45 219.75,403.95 220.95,403.82 222.14,404.77 223.34,405.05 224.54,404.94 225.74,404.45 226.93,404.95 228.13,404.70 229.33,404.86 230.52,404.43 231.72,404.00 232.92,403.94 234.11,404.61 235.31,404.30 236.51,404.51 237.71,404.13 238.90,404.36 240.10,403.94 241.30,403.59 242.49,403.57 243.69,403.55 244.89,403.54 246.08,403.81 247.28,404.48 248.48,403.86 249.68,404.13 250.87,404.85 252.07,404.74 253.27,404.69 254.46,404.92 255.66,404.09 256.86,404.64 258.06,403.97 259.25,404.00 260.45,404.46 261.65,404.50 262.84,404.39 264.04,404.73 265.24,404.10 266.43,403.85 267.63,403.27 268.83,403.09 270.02,403.02 271.22,402.70 272.42,402.56 273.62,402.82 274.81,403.08 276.01,403.24 277.21,402.95 278.40,402.61 279.60,402.50 280.80,402.40 282.00,403.32 283.19,403.36 284.39,403.77 285.59,403.37 286.78,403.11 287.98,402.94 289.18,402.44 290.37,402.90 291.57,402.52 292.77,402.43 293.96,402.81 295.16,402.05" fill="none" stroke="#2433c8" stroke-width="1.7" stroke-linejoin="round" stroke-linecap="round" />
<polyline points="200.60,399.70 201.80,401.01 202.99,401.14 204.19,401.68 205.39,401.58 206.58,402.33 207.78,402.27 208.98,403.30 210.17,402.98 211.37,403.60 212.57,404.34 213.77,404.65 214.96,404.54 216.16,405.26 217.36,405.28 218.55,405.79 219.75,406.02 220.95,406.04 222.14,405.85 223.34,405.37 224.54,404.26 225.74,403.86 226.93,402.88 228.13,402.05 229.33,401.35 230.52,400.67 231.72,400.53 232.92,400.12 234.11,399.40 235.31,399.18 236.51,399.34 237.71,398.76 238.90,398.18 240.10,398.05 241.30,397.87 242.49,397.42 243.69,396.30 244.89,395.26 246.08,394.60 247.28,394.28 248.48,394.35 249.68,394.20 250.87,393.07 252.07,392.32 253.27,391.73 254.46,391.51 255.66,391.20 256.86,390.71 258.06,390.25 259.25,389.15 260.45,388.62 261.65,387.76 262.84,387.16 264.04,386.42 265.24,385.49 266.43,384.65 267.63,384.69 268.83,383.47 270.02,382.63 271.22,381.92 272.42,381.71 273.62,380.72 274.81,380.06 276.01,380.13 277.21,379.37 278.40,378.47 279.60,377.80 280.80,376.97 282.00,376.69 283.19,376.09 284.39,376.23 285.59,375.33 286.78,375.18 287.98,374.13 289.18,373.02 290.37,372.77 291.57,372.74 292.77,372.51 293.96,371.52 295.16,371.13" fill="none" stroke="#c8372a" stroke-width="1.5" stroke-linejoin="round" stroke-linecap="round" />
<polyline points="200.60,400.15 201.80,400.19 202.99,400.91 204.19,401.18 205.39,401.20 206.58,401.87 207.78,402.12 208.98,402.40 210.17,402.50 211.37,403.68 212.57,404.31 213.77,403.73 214.96,403.75 216.16,404.43 217.36,404.28 218.55,404.94 219.75,405.13 220.95,405.15 222.14,405.44 223.34,405.72 224.54,405.12 225.74,403.88 226.93,403.18 228.13,401.99 229.33,400.51 230.52,400.43 231.72,399.74 232.92,399.21 234.11,397.80 235.31,396.94 236.51,396.03 237.71,395.37 238.90,393.95 240.10,392.77 241.30,392.10 242.49,390.87 243.69,390.51 244.89,389.81 246.08,388.26 247.28,387.89 248.48,387.41 249.68,386.91 250.87,385.46 252.07,384.05 253.27,383.81 254.46,382.77 255.66,381.90 256.86,381.11 258.06,380.39 259.25,379.42 260.45,378.78 261.65,377.07 262.84,376.60 264.04,375.53 265.24,374.41 266.43,373.36 267.63,372.60 268.83,371.73 270.02,370.34 271.22,370.10 272.42,369.57 273.62,368.77 274.81,367.38 276.01,366.59 277.21,365.81 278.40,365.37 279.60,364.69 280.80,363.27 282.00,362.59 283.19,361.54 284.39,360.84 285.59,359.96 286.78,359.24 287.98,357.55 289.18,356.54 290.37,355.74 291.57,355.24 292.77,353.82 293.96,352.95 295.16,352.62" fill="none" stroke="#141414" stroke-width="1.5" stroke-linejoin="round" stroke-linecap="round" stroke-dasharray="2.2 0.8"/>
<polyline points="200.60,400.82 201.80,401.92 202.99,402.18 204.19,402.53 205.39,402.22 206.58,402.83 207.78,403.15 208.98,403.19 210.17,403.47 211.37,402.95 212.57,402.26 213.77,401.80 214.96,402.12 216.16,400.90 217.36,400.48 218.55,399.92 219.75,399.39 220.95,398.86 222.14,397.75 223.34,397.65 224.54,397.48 225.74,396.04 226.93,395.82 228.13,395.39 229.33,394.65 230.52,393.35 231.72,392.94 232.92,392.86 234.11,392.20 235.31,391.56 236.51,391.15 237.71,389.51 238.90,388.43 240.10,388.23 241.30,387.68 242.49,386.12 243.69,385.23 244.89,384.71 246.08,383.92 247.28,382.64 248.48,382.49 249.68,381.59 250.87,381.51 252.07,380.56 253.27,379.99 254.46,379.20 255.66,378.34 256.86,377.46 258.06,376.03 259.25,375.51 260.45,375.30 261.65,373.83 262.84,372.52 264.04,371.51 265.24,371.25 266.43,370.70 267.63,369.52 268.83,369.34 270.02,368.92 271.22,367.79 272.42,367.11 273.62,366.08 274.81,365.51 276.01,363.83 277.21,363.06 278.40,362.45 279.60,361.79 280.80,361.10 282.00,359.71 283.19,358.51 284.39,357.46 285.59,356.31 286.78,355.68 287.98,355.23 289.18,354.57 290.37,354.19 291.57,353.32 292.77,352.30 293.96,350.87 295.16,350.02" fill="none" stroke="#5c9e3c" stroke-width="1.4" stroke-linejoin="round" stroke-linecap="round" stroke-dasharray="2 0.8"/>
<text x="299.40" y="345.99" font-size="5.6" font-weight="bold" fill="#5a9a3a">M18-1<tspan font-size="3.6" dy="-2">wt</tspan></text>
<text x="299.00" y="356.59" font-size="5.6" font-weight="bold" fill="#111">control</text>
<text x="299.00" y="372.19" font-size="5.6" font-weight="bold" fill="#bb3038">M18-1<tspan font-size="3.2" dy="-2">R405Q</tspan></text>
<text x="300.30" y="404.99" font-size="5.6" font-weight="bold" fill="#2433c8">cdV2</text>
<text x="352.28" y="286.25" font-size="12.3" font-weight="bold" fill="#000">H</text>
<text x="427.50" y="293.00" font-size="5.6" font-weight="bold" fill="#6aaa4a" textLength="20.8" lengthAdjust="spacingAndGlyphs">Munc18</text>
<text x="449.90" y="290.40" font-size="3.6" font-weight="bold" fill="#6aaa4a" textLength="4.2" lengthAdjust="spacingAndGlyphs">WT</text>
<text x="456.90" y="293.30" font-size="5.8" font-weight="bold" fill="#111" textLength="5.0" lengthAdjust="spacingAndGlyphs">or</text>
<text x="464.30" y="290.40" font-size="3.8" font-weight="bold" fill="#e04a4a" textLength="10.2" lengthAdjust="spacingAndGlyphs">R405Q</text>
<circle cx="385.10" cy="305.60" r="7.20" fill="#fff" stroke="#dcc058" stroke-width="1.7"/>
<text x="385.10" y="307.59" font-size="5.6" font-weight="bold" fill="#1a1a1a" text-anchor="middle">V</text>
<line x1="395.50" y1="305.80" x2="397.70" y2="305.80" stroke="#222" stroke-width="1.0" />
<line x1="396.60" y1="304.70" x2="396.60" y2="306.90" stroke="#222" stroke-width="1.0" />
<circle cx="408.10" cy="305.60" r="7.20" fill="#fff" stroke="#3f52cc" stroke-width="1.7"/>
<text x="408.10" y="307.59" font-size="5.6" font-weight="bold" fill="#1a1a1a" text-anchor="middle">T</text>
<line x1="416.50" y1="306.00" x2="419.60" y2="306.00" stroke="#222" stroke-width="0.8" />
<polygon points="421.60,306.00 419.60,307.20 419.60,304.80" fill="#222"/>
<rect x="422.60" y="299.00" width="24.20" height="13.50" fill="#c9d7f1" stroke="none" stroke-width="0.6" />
<text x="434.70" y="305.04" font-size="5.6" font-weight="bold" fill="#1a1a3a" text-anchor="middle">4°C</text>
<text x="434.70" y="310.71" font-size="5.6" font-weight="bold" fill="#1a1a3a" text-anchor="middle">2hs</text>
<line x1="449.40" y1="305.50" x2="454.70" y2="305.50" stroke="#222" stroke-width="0.8" />
<polygon points="456.90,305.50 454.70,306.80 454.70,304.20" fill="#222"/>
<line x1="452.00" y1="294.20" x2="452.00" y2="299.80" stroke="#222" stroke-width="0.7" />
<polygon points="452.00,302.00 450.80,299.80 453.20,299.80" fill="#222"/>
<rect x="458.00" y="298.70" width="23.40" height="13.80" fill="#dca3cf" stroke="none" stroke-width="0.6" />
<text x="469.70" y="304.83" font-size="5.6" font-weight="bold" fill="#3a1a3a" text-anchor="middle">37°C</text>
<text x="469.70" y="310.62" font-size="5.6" font-weight="bold" fill="#3a1a3a" text-anchor="middle">fusion</text>
<line x1="365.60" y1="316.18" x2="365.60" y2="407.00" stroke="#8c8c8c" stroke-width="0.8" />
<line x1="364.10" y1="406.00" x2="365.60" y2="406.00" stroke="#8c8c8c" stroke-width="0.6" />
<line x1="364.10" y1="394.96" x2="365.60" y2="394.96" stroke="#8c8c8c" stroke-width="0.6" />
<line x1="364.10" y1="383.92" x2="365.60" y2="383.92" stroke="#8c8c8c" stroke-width="0.6" />
<line x1="364.10" y1="372.88" x2="365.60" y2="372.88" stroke="#8c8c8c" stroke-width="0.6" />
<line x1="364.10" y1="361.84" x2="365.60" y2="361.84" stroke="#8c8c8c" stroke-width="0.6" />
<line x1="364.10" y1="350.80" x2="365.60" y2="350.80" stroke="#8c8c8c" stroke-width="0.6" />
<line x1="364.10" y1="339.76" x2="365.60" y2="339.76" stroke="#8c8c8c" stroke-width="0.6" />
<line x1="364.10" y1="328.72" x2="365.60" y2="328.72" stroke="#8c8c8c" stroke-width="0.6" />
<line x1="364.10" y1="317.68" x2="365.60" y2="317.68" stroke="#8c8c8c" stroke-width="0.6" />
<text x="361.70" y="406.72" font-size="5.4" font-weight="bold" fill="#1e1e1e" text-anchor="end">0</text>
<text x="361.70" y="385.84" font-size="5.4" font-weight="bold" fill="#1e1e1e" text-anchor="end">4</text>
<text x="361.70" y="363.76" font-size="5.4" font-weight="bold" fill="#1e1e1e" text-anchor="end">8</text>
<text x="361.70" y="341.68" font-size="5.4" font-weight="bold" fill="#1e1e1e" text-anchor="end">12</text>
<text x="361.70" y="319.60" font-size="5.4" font-weight="bold" fill="#1e1e1e" text-anchor="end">16</text>
<line x1="365.60" y1="407.00" x2="463.14" y2="407.00" stroke="#b4b4b4" stroke-width="0.8" />
<line x1="382.76" y1="407.00" x2="382.76" y2="408.20" stroke="#9a9a9a" stroke-width="0.6" />
<text x="382.76" y="413.62" font-size="5.4" font-weight="bold" fill="#1e1e1e" text-anchor="middle">20</text>
<line x1="398.52" y1="407.00" x2="398.52" y2="408.20" stroke="#9a9a9a" stroke-width="0.6" />
<text x="398.52" y="413.62" font-size="5.4" font-weight="bold" fill="#1e1e1e" text-anchor="middle">40</text>
<line x1="414.28" y1="407.00" x2="414.28" y2="408.20" stroke="#9a9a9a" stroke-width="0.6" />
<text x="414.28" y="413.62" font-size="5.4" font-weight="bold" fill="#1e1e1e" text-anchor="middle">60</text>
<line x1="430.04" y1="407.00" x2="430.04" y2="408.20" stroke="#9a9a9a" stroke-width="0.6" />
<text x="430.04" y="413.62" font-size="5.4" font-weight="bold" fill="#1e1e1e" text-anchor="middle">80</text>
<line x1="445.80" y1="407.00" x2="445.80" y2="408.20" stroke="#9a9a9a" stroke-width="0.6" />
<text x="445.80" y="413.62" font-size="5.4" font-weight="bold" fill="#1e1e1e" text-anchor="middle">100</text>
<line x1="461.56" y1="407.00" x2="461.56" y2="408.20" stroke="#9a9a9a" stroke-width="0.6" />
<text x="461.56" y="413.62" font-size="5.4" font-weight="bold" fill="#1e1e1e" text-anchor="middle">120</text>
<text x="421.70" y="420.10" font-size="7.5" fill="#222" text-anchor="middle" textLength="37.7" lengthAdjust="spacingAndGlyphs">Time  (min)</text>
<rect x="381.70" y="318.40" width="31.80" height="37.60" fill="#fff" stroke="#b4b4b4" stroke-width="0.8" />
<line x1="380.50" y1="319.90" x2="381.70" y2="319.90" stroke="#888" stroke-width="0.5" />
<rect x="377.30" y="319.40" width="2.2" height="1" fill="#b0b0b0"/>
<line x1="380.50" y1="324.84" x2="381.70" y2="324.84" stroke="#888" stroke-width="0.5" />
<rect x="377.30" y="324.34" width="2.2" height="1" fill="#b0b0b0"/>
<line x1="380.50" y1="329.79" x2="381.70" y2="329.79" stroke="#888" stroke-width="0.5" />
<rect x="377.30" y="329.29" width="2.2" height="1" fill="#b0b0b0"/>
<line x1="380.50" y1="334.73" x2="381.70" y2="334.73" stroke="#888" stroke-width="0.5" />
<rect x="377.30" y="334.23" width="2.2" height="1" fill="#b0b0b0"/>
<line x1="380.50" y1="339.67" x2="381.70" y2="339.67" stroke="#888" stroke-width="0.5" />
<rect x="377.30" y="339.17" width="2.2" height="1" fill="#b0b0b0"/>
<line x1="380.50" y1="344.61" x2="381.70" y2="344.61" stroke="#888" stroke-width="0.5" />
<rect x="377.30" y="344.11" width="2.2" height="1" fill="#b0b0b0"/>
<line x1="380.50" y1="349.56" x2="381.70" y2="349.56" stroke="#888" stroke-width="0.5" />
<rect x="377.30" y="349.06" width="2.2" height="1" fill="#b0b0b0"/>
<line x1="380.50" y1="354.50" x2="381.70" y2="354.50" stroke="#888" stroke-width="0.5" />
<rect x="377.30" y="354.00" width="2.2" height="1" fill="#b0b0b0"/>
<text x="372.70" y="338.97" font-size="5.0" font-weight="bold" fill="#111" text-anchor="middle" textLength="37.60000000000002" lengthAdjust="spacingAndGlyphs" transform="rotate(-90 372.70 337.20)">Folds of activation</text>
<line x1="381.70" y1="331.20" x2="413.50" y2="331.20" stroke="#555" stroke-width="0.8" />
<rect x="385.50" y="330.20" width="2" height="2" fill="#222"/>
<rect x="396.20" y="330.20" width="2" height="2" fill="#222"/>
<rect x="404.70" y="331.20" width="7.20" height="8.80" fill="#e03a22" stroke="none" stroke-width="0.6" />
<line x1="408.30" y1="340.00" x2="408.30" y2="341.40" stroke="#222" stroke-width="0.6" />
<line x1="407.40" y1="341.40" x2="409.20" y2="341.40" stroke="#222" stroke-width="0.6" />
<polygon points="408.50,349.10 409.08,350.50 410.59,350.62 409.44,351.61 409.79,353.08 408.50,352.29 407.21,353.08 407.56,351.61 406.41,350.62 407.92,350.50" fill="#111"/>
<polyline points="367.39,393.31 368.58,393.71 369.76,393.79 370.94,394.68 372.12,395.40 373.30,395.52 374.49,396.05 375.67,396.72 376.85,397.24 378.03,397.83 379.21,398.58 380.40,398.60 381.58,398.43 382.76,398.78 383.94,399.24 385.12,400.08 386.31,400.62 387.49,401.50 388.67,401.43 389.85,402.11 391.03,402.70 392.22,402.29 393.40,403.05 394.58,402.81 395.76,403.29 396.94,403.52 398.13,403.96 399.31,404.69 400.49,404.37 401.67,404.77 402.85,404.81 404.04,405.20 405.22,405.52 406.40,405.30 407.58,405.63 408.76,405.33 409.95,404.53 411.13,403.85 412.31,404.20 413.49,404.82 414.67,404.88 415.86,405.28 417.04,405.31 418.22,404.79 419.40,404.48 420.58,405.07 421.77,404.81 422.95,404.74 424.13,404.72 425.31,405.06 426.49,404.91 427.68,405.20 428.86,404.60 430.04,404.28 431.22,404.12 432.40,404.30 433.59,403.68 434.77,404.09 435.95,404.54 437.13,404.59 438.31,403.90 439.50,404.48 440.68,404.02 441.86,403.51 443.04,403.31 444.22,403.70 445.41,403.95 446.59,403.53 447.77,403.50 448.95,403.34 450.13,404.07 451.32,403.94 452.50,403.68 453.68,404.19 454.86,404.53 456.04,403.89 457.23,403.86 458.41,404.05 459.59,404.06 460.77,404.36 461.95,404.55 463.14,404.85" fill="none" stroke="#2433c8" stroke-width="1.7" stroke-linejoin="round" stroke-linecap="round" />
<polyline points="367.39,398.26 368.58,399.32 369.76,399.06 370.94,400.01 372.12,400.43 373.30,400.25 374.49,400.99 375.67,401.36 376.85,402.16 378.03,401.70 379.21,401.51 380.40,402.58 381.58,403.39 382.76,403.51 383.94,403.61 385.12,403.41 386.31,403.94 387.49,404.00 388.67,404.67 389.85,405.06 391.03,405.52 392.22,405.21 393.40,405.02 394.58,404.85 395.76,404.23 396.94,404.44 398.13,404.36 399.31,404.00 400.49,402.99 401.67,403.07 402.85,402.98 404.04,402.58 405.22,401.83 406.40,401.75 407.58,401.67 408.76,400.71 409.95,400.17 411.13,399.66 412.31,399.92 413.49,399.59 414.67,399.40 415.86,398.75 417.04,397.46 418.22,396.39 419.40,395.75 420.58,395.81 421.77,395.39 422.95,394.51 424.13,394.52 425.31,394.26 426.49,393.49 427.68,393.33 428.86,392.85 430.04,392.52 431.22,391.51 432.40,391.11 433.59,391.22 434.77,391.20 435.95,390.15 437.13,390.01 438.31,389.00 439.50,388.77 440.68,388.02 441.86,387.61 443.04,386.75 444.22,386.71 445.41,386.11 446.59,385.22 447.77,384.99 448.95,383.68 450.13,382.68 451.32,381.89 452.50,381.26 453.68,380.65 454.86,380.56 456.04,379.94 457.23,379.92 458.41,380.15 459.59,378.93 460.77,377.98 461.95,378.08 463.14,377.76" fill="none" stroke="#c8372a" stroke-width="1.5" stroke-linejoin="round" stroke-linecap="round" />
<polyline points="367.39,397.79 368.58,398.80 369.76,398.87 370.94,399.74 372.12,401.04 373.30,401.19 374.49,402.39 375.67,403.16 376.85,404.00 378.03,403.94 379.21,403.80 380.40,404.17 381.58,405.04 382.76,404.85 383.94,404.79 385.12,405.54 386.31,406.10 387.49,405.88 388.67,404.39 389.85,403.27 391.03,402.33 392.22,401.66 393.40,401.59 394.58,400.72 395.76,400.14 396.94,399.19 398.13,398.52 399.31,398.18 400.49,396.76 401.67,396.74 402.85,396.02 404.04,395.30 405.22,393.72 406.40,393.60 407.58,392.61 408.76,391.24 409.95,390.56 411.13,389.43 412.31,389.16 413.49,388.65 414.67,388.14 415.86,387.53 417.04,386.90 418.22,386.60 419.40,384.91 420.58,383.94 421.77,383.14 422.95,382.56 424.13,382.36 425.31,381.91 426.49,380.37 427.68,379.35 428.86,378.93 430.04,378.01 431.22,376.88 432.40,377.13 433.59,376.56 434.77,375.89 435.95,375.27 437.13,374.35 438.31,373.84 439.50,373.48 440.68,371.98 441.86,371.38 443.04,370.24 444.22,370.16 445.41,369.59 446.59,368.72 447.77,368.51 448.95,367.61 450.13,367.09 451.32,366.21 452.50,365.53 453.68,364.20 454.86,363.48 456.04,363.10 457.23,362.14 458.41,361.43 459.59,361.06 460.77,359.83 461.95,359.06 463.14,359.07" fill="none" stroke="#5c9e3c" stroke-width="1.4" stroke-linejoin="round" stroke-linecap="round" stroke-dasharray="2 0.8"/>
<polyline points="367.39,397.75 368.58,398.33 369.76,399.26 370.94,399.40 372.12,400.93 373.30,400.80 374.49,401.33 375.67,401.73 376.85,402.17 378.03,403.41 379.21,403.51 380.40,403.94 381.58,405.00 382.76,404.81 383.94,405.34 385.12,405.35 386.31,406.23 387.49,405.96 388.67,405.56 389.85,404.88 391.03,404.05 392.22,403.26 393.40,401.69 394.58,400.87 395.76,400.05 396.94,398.37 398.13,397.06 399.31,396.40 400.49,395.89 401.67,394.53 402.85,393.61 404.04,392.96 405.22,392.28 406.40,391.44 407.58,390.42 408.76,389.87 409.95,389.42 411.13,388.19 412.31,387.44 413.49,386.84 414.67,385.84 415.86,384.38 417.04,382.94 418.22,382.80 419.40,381.34 420.58,380.78 421.77,379.37 422.95,378.14 424.13,377.84 425.31,376.87 426.49,376.03 427.68,375.63 428.86,374.09 430.04,373.23 431.22,371.99 432.40,371.97 433.59,371.47 434.77,369.95 435.95,369.53 437.13,368.84 438.31,368.22 439.50,366.78 440.68,366.28 441.86,365.87 443.04,365.31 444.22,363.57 445.41,363.33 446.59,362.70 447.77,361.78 448.95,360.58 450.13,359.17 451.32,357.81 452.50,357.32 453.68,356.43 454.86,356.03 456.04,355.20 457.23,355.00 458.41,353.61 459.59,352.73 460.77,351.68 461.95,350.50 463.14,349.49" fill="none" stroke="#141414" stroke-width="1.5" stroke-linejoin="round" stroke-linecap="round" stroke-dasharray="2.2 0.8"/>
<text x="465.70" y="350.19" font-size="5.6" font-weight="bold" fill="#111">control</text>
<text x="465.30" y="360.29" font-size="5.6" font-weight="bold" fill="#5a9a3a">M18-1<tspan font-size="3.6" dy="-2">wt</tspan></text>
<text x="465.30" y="379.49" font-size="5.6" font-weight="bold" fill="#bb3038">M18-1<tspan font-size="3.2" dy="-2">R405Q</tspan></text>
<text x="468.00" y="405.99" font-size="5.6" font-weight="bold" fill="#2433c8">cdV2</text>
<text x="0.38" y="445.35" font-size="12.3" font-weight="bold" fill="#000">I</text>
<circle cx="23.00" cy="458.60" r="7.20" fill="#fff" stroke="#dcc058" stroke-width="1.7"/>
<text x="23.00" y="460.59" font-size="5.6" font-weight="bold" fill="#1a1a1a" text-anchor="middle">V</text>
<line x1="32.90" y1="458.80" x2="35.10" y2="458.80" stroke="#222" stroke-width="1.0" />
<line x1="34.00" y1="457.70" x2="34.00" y2="459.90" stroke="#222" stroke-width="1.0" />
<circle cx="46.10" cy="458.60" r="7.20" fill="#fff" stroke="#3f52cc" stroke-width="1.7"/>
<text x="46.10" y="460.59" font-size="5.6" font-weight="bold" fill="#1a1a1a" text-anchor="middle">T</text>
<line x1="54.00" y1="458.50" x2="57.10" y2="458.50" stroke="#222" stroke-width="0.8" />
<polygon points="59.10,458.50 57.10,459.70 57.10,457.30" fill="#222"/>
<rect x="59.70" y="452.10" width="25.10" height="13.40" fill="#c9d7f1" stroke="none" stroke-width="0.6" />
<text x="72.25" y="458.11" font-size="5.6" font-weight="bold" fill="#1a1a3a" text-anchor="middle">4°C</text>
<text x="72.25" y="463.74" font-size="5.6" font-weight="bold" fill="#1a1a3a" text-anchor="middle">2hs</text>
<text x="85.20" y="447.19" font-size="5.6" font-weight="bold" fill="#3040c0">cdV2</text>
<line x1="91.80" y1="447.60" x2="91.80" y2="452.00" stroke="#222" stroke-width="0.7" />
<polygon points="91.80,454.20 90.60,452.00 93.00,452.00" fill="#222"/>
<line x1="87.80" y1="458.00" x2="94.60" y2="458.00" stroke="#222" stroke-width="0.8" />
<polygon points="96.60,458.00 94.60,459.20 94.60,456.80" fill="#222"/>
<rect x="99.40" y="452.10" width="23.00" height="13.40" fill="#c9d7f1" stroke="none" stroke-width="0.6" />
<text x="110.90" y="458.11" font-size="5.6" font-weight="bold" fill="#1a1a3a" text-anchor="middle">4°C</text>
<text x="110.90" y="463.74" font-size="5.6" font-weight="bold" fill="#1a1a3a" text-anchor="middle">1hs</text>
<text x="111.20" y="442.70" font-size="5.6" font-weight="bold" fill="#6aaa4a" textLength="20.8" lengthAdjust="spacingAndGlyphs">Munc18</text>
<text x="133.60" y="440.10" font-size="3.6" font-weight="bold" fill="#6aaa4a" textLength="4.2" lengthAdjust="spacingAndGlyphs">WT</text>
<text x="140.60" y="443.00" font-size="5.8" font-weight="bold" fill="#111" textLength="5.0" lengthAdjust="spacingAndGlyphs">or</text>
<text x="148.00" y="440.10" font-size="3.8" font-weight="bold" fill="#e04a4a" textLength="10.2" lengthAdjust="spacingAndGlyphs">R405Q</text>
<line x1="132.80" y1="447.50" x2="132.80" y2="452.00" stroke="#222" stroke-width="0.7" />
<polygon points="132.80,454.20 131.60,452.00 134.00,452.00" fill="#222"/>
<line x1="130.20" y1="458.00" x2="136.20" y2="458.00" stroke="#222" stroke-width="0.8" />
<polygon points="138.20,458.00 136.20,459.20 136.20,456.80" fill="#222"/>
<rect x="138.80" y="452.10" width="23.90" height="13.40" fill="#dca3cf" stroke="none" stroke-width="0.6" />
<text x="150.75" y="458.11" font-size="5.6" font-weight="bold" fill="#3a1a3a" text-anchor="middle">37°C</text>
<text x="150.75" y="463.74" font-size="5.6" font-weight="bold" fill="#3a1a3a" text-anchor="middle">fusion</text>
<line x1="28.00" y1="478.94" x2="28.00" y2="568.00" stroke="#8c8c8c" stroke-width="0.8" />
<line x1="26.50" y1="567.00" x2="28.00" y2="567.00" stroke="#8c8c8c" stroke-width="0.6" />
<line x1="26.50" y1="556.18" x2="28.00" y2="556.18" stroke="#8c8c8c" stroke-width="0.6" />
<line x1="26.50" y1="545.36" x2="28.00" y2="545.36" stroke="#8c8c8c" stroke-width="0.6" />
<line x1="26.50" y1="534.54" x2="28.00" y2="534.54" stroke="#8c8c8c" stroke-width="0.6" />
<line x1="26.50" y1="523.72" x2="28.00" y2="523.72" stroke="#8c8c8c" stroke-width="0.6" />
<line x1="26.50" y1="512.90" x2="28.00" y2="512.90" stroke="#8c8c8c" stroke-width="0.6" />
<line x1="26.50" y1="502.08" x2="28.00" y2="502.08" stroke="#8c8c8c" stroke-width="0.6" />
<line x1="26.50" y1="491.26" x2="28.00" y2="491.26" stroke="#8c8c8c" stroke-width="0.6" />
<line x1="26.50" y1="480.44" x2="28.00" y2="480.44" stroke="#8c8c8c" stroke-width="0.6" />
<text x="24.90" y="567.72" font-size="5.4" font-weight="bold" fill="#1e1e1e" text-anchor="end">0</text>
<text x="24.90" y="547.28" font-size="5.4" font-weight="bold" fill="#1e1e1e" text-anchor="end">4</text>
<text x="24.90" y="525.64" font-size="5.4" font-weight="bold" fill="#1e1e1e" text-anchor="end">8</text>
<text x="24.90" y="504.00" font-size="5.4" font-weight="bold" fill="#1e1e1e" text-anchor="end">12</text>
<text x="24.90" y="482.36" font-size="5.4" font-weight="bold" fill="#1e1e1e" text-anchor="end">16</text>
<line x1="28.00" y1="568.00" x2="124.35" y2="568.00" stroke="#b4b4b4" stroke-width="0.8" />
<line x1="42.24" y1="568.00" x2="42.24" y2="569.20" stroke="#9a9a9a" stroke-width="0.6" />
<text x="42.24" y="576.02" font-size="5.4" font-weight="bold" fill="#1e1e1e" text-anchor="middle">20</text>
<line x1="57.88" y1="568.00" x2="57.88" y2="569.20" stroke="#9a9a9a" stroke-width="0.6" />
<text x="57.88" y="576.02" font-size="5.4" font-weight="bold" fill="#1e1e1e" text-anchor="middle">40</text>
<line x1="73.52" y1="568.00" x2="73.52" y2="569.20" stroke="#9a9a9a" stroke-width="0.6" />
<text x="73.52" y="576.02" font-size="5.4" font-weight="bold" fill="#1e1e1e" text-anchor="middle">60</text>
<line x1="89.16" y1="568.00" x2="89.16" y2="569.20" stroke="#9a9a9a" stroke-width="0.6" />
<text x="89.16" y="576.02" font-size="5.4" font-weight="bold" fill="#1e1e1e" text-anchor="middle">80</text>
<line x1="104.80" y1="568.00" x2="104.80" y2="569.20" stroke="#9a9a9a" stroke-width="0.6" />
<text x="104.80" y="576.02" font-size="5.4" font-weight="bold" fill="#1e1e1e" text-anchor="middle">100</text>
<line x1="120.44" y1="568.00" x2="120.44" y2="569.20" stroke="#9a9a9a" stroke-width="0.6" />
<text x="120.44" y="576.02" font-size="5.4" font-weight="bold" fill="#1e1e1e" text-anchor="middle">120</text>
<text x="77.40" y="584.50" font-size="7.5" fill="#222" text-anchor="middle" textLength="37.7" lengthAdjust="spacingAndGlyphs">Time  (min)</text>
<text x="3.90" y="526.28" font-size="7.2" fill="#333" text-anchor="middle" textLength="41" lengthAdjust="spacingAndGlyphs" transform="rotate(-90 3.90 523.72)">Lipid  Mixing</text>
<text x="12.30" y="526.28" font-size="7.2" fill="#333" text-anchor="middle" textLength="76.6" lengthAdjust="spacingAndGlyphs" transform="rotate(-90 12.30 523.72)">( % max fluorescence)</text>
<rect x="43.00" y="485.50" width="30.50" height="35.30" fill="#fff" stroke="#b4b4b4" stroke-width="0.8" />
<line x1="41.80" y1="487.00" x2="43.00" y2="487.00" stroke="#888" stroke-width="0.5" />
<rect x="38.60" y="486.50" width="2.2" height="1" fill="#b0b0b0"/>
<line x1="41.80" y1="491.61" x2="43.00" y2="491.61" stroke="#888" stroke-width="0.5" />
<rect x="38.60" y="491.11" width="2.2" height="1" fill="#b0b0b0"/>
<line x1="41.80" y1="496.23" x2="43.00" y2="496.23" stroke="#888" stroke-width="0.5" />
<rect x="38.60" y="495.73" width="2.2" height="1" fill="#b0b0b0"/>
<line x1="41.80" y1="500.84" x2="43.00" y2="500.84" stroke="#888" stroke-width="0.5" />
<rect x="38.60" y="500.34" width="2.2" height="1" fill="#b0b0b0"/>
<line x1="41.80" y1="505.46" x2="43.00" y2="505.46" stroke="#888" stroke-width="0.5" />
<rect x="38.60" y="504.96" width="2.2" height="1" fill="#b0b0b0"/>
<line x1="41.80" y1="510.07" x2="43.00" y2="510.07" stroke="#888" stroke-width="0.5" />
<rect x="38.60" y="509.57" width="2.2" height="1" fill="#b0b0b0"/>
<line x1="41.80" y1="514.69" x2="43.00" y2="514.69" stroke="#888" stroke-width="0.5" />
<rect x="38.60" y="514.19" width="2.2" height="1" fill="#b0b0b0"/>
<line x1="41.80" y1="519.30" x2="43.00" y2="519.30" stroke="#888" stroke-width="0.5" />
<rect x="38.60" y="518.80" width="2.2" height="1" fill="#b0b0b0"/>
<text x="34.00" y="504.92" font-size="5.0" font-weight="bold" fill="#111" text-anchor="middle" textLength="35.299999999999955" lengthAdjust="spacingAndGlyphs" transform="rotate(-90 34.00 503.15)">Folds of activation</text>
<line x1="43.00" y1="497.00" x2="73.50" y2="497.00" stroke="#555" stroke-width="0.8" />
<rect x="47.20" y="496.00" width="2" height="2" fill="#222"/>
<rect x="56.30" y="496.00" width="2" height="2" fill="#222"/>
<rect x="64.90" y="497.00" width="7.20" height="8.90" fill="#e03a22" stroke="none" stroke-width="0.6" />
<line x1="68.50" y1="505.90" x2="68.50" y2="507.30" stroke="#222" stroke-width="0.6" />
<line x1="67.60" y1="507.30" x2="69.40" y2="507.30" stroke="#222" stroke-width="0.6" />
<polygon points="68.70,512.80 69.28,514.20 70.79,514.32 69.64,515.31 69.99,516.78 68.70,515.99 67.41,516.78 67.76,515.31 66.61,514.32 68.12,514.20" fill="#111"/>
<polyline points="27.38,555.87 28.55,555.99 29.73,557.01 30.90,556.50 32.07,556.55 33.25,556.50 34.42,557.58 35.59,558.45 36.77,559.32 37.94,559.80 39.11,560.46 40.29,560.14 41.46,560.52 42.63,560.31 43.80,560.40 44.98,561.14 46.15,561.97 47.32,562.38 48.50,563.19 49.67,563.02 50.84,563.66 52.02,564.25 53.19,563.79 54.36,564.24 55.53,563.75 56.71,563.31 57.88,563.46 59.05,564.07 60.23,564.56 61.40,564.72 62.57,564.17 63.75,564.13 64.92,564.37 66.09,564.87 67.26,564.72 68.44,564.58 69.61,564.90 70.78,564.85 71.96,564.75 73.13,564.53 74.30,564.28 75.47,564.03 76.65,563.51 77.82,563.90 78.99,564.39 80.17,564.40 81.34,564.52 82.51,564.11 83.69,563.98 84.86,564.10 86.03,564.46 87.21,563.81 88.38,563.58 89.55,563.43 90.72,563.23 91.90,562.90 93.07,563.76 94.24,564.07 95.42,563.88 96.59,563.46 97.76,563.45 98.94,563.44 100.11,563.68 101.28,563.90 102.45,563.20 103.63,562.63 104.80,562.91 105.97,563.11 107.15,563.66 108.32,563.37 109.49,563.69 110.66,563.34 111.84,563.57 113.01,563.45 114.18,562.86 115.36,563.21 116.53,563.12 117.70,563.34 118.88,563.25 120.05,562.69 121.22,562.83 122.40,562.29 123.57,562.69" fill="none" stroke="#2433c8" stroke-width="1.7" stroke-linejoin="round" stroke-linecap="round" />
<polyline points="27.38,560.52 28.55,560.45 29.73,560.00 30.90,560.67 32.07,560.92 33.25,561.39 34.42,561.29 35.59,561.40 36.77,561.67 37.94,561.43 39.11,561.74 40.29,562.47 41.46,562.95 42.63,562.99 43.80,563.01 44.98,563.71 46.15,563.45 47.32,563.82 48.50,563.70 49.67,564.56 50.84,564.85 52.02,565.46 53.19,565.36 54.36,565.55 55.53,565.58 56.71,565.79 57.88,565.09 59.05,564.67 60.23,564.63 61.40,564.27 62.57,564.32 63.75,563.20 64.92,562.43 66.09,562.24 67.26,562.51 68.44,561.47 69.61,561.64 70.78,561.78 71.96,561.22 73.13,560.77 74.30,559.71 75.47,559.82 76.65,559.82 77.82,559.14 78.99,559.08 80.17,558.05 81.34,557.48 82.51,556.46 83.69,555.58 84.86,555.77 86.03,554.99 87.21,554.70 88.38,553.76 89.55,554.13 90.72,553.67 91.90,552.53 93.07,552.85 94.24,552.52 95.42,552.13 96.59,551.63 97.76,550.31 98.94,550.36 100.11,549.38 101.28,549.31 102.45,548.28 103.63,548.41 104.80,548.34 105.97,546.95 107.15,547.18 108.32,546.30 109.49,546.13 110.66,545.34 111.84,545.00 113.01,544.19 114.18,543.43 115.36,542.68 116.53,542.83 117.70,541.80 118.88,541.73 120.05,541.02 121.22,540.11 122.40,539.40 123.57,539.07" fill="none" stroke="#c8372a" stroke-width="1.5" stroke-linejoin="round" stroke-linecap="round" />
<polyline points="27.38,556.47 28.55,556.92 29.73,557.32 30.90,557.90 32.07,558.29 33.25,558.85 34.42,559.34 35.59,560.22 36.77,561.05 37.94,561.54 39.11,561.31 40.29,562.31 41.46,562.63 42.63,562.88 43.80,562.99 44.98,563.34 46.15,563.12 47.32,562.98 48.50,563.48 49.67,564.33 50.84,564.03 52.02,563.93 53.19,564.40 54.36,563.69 55.53,562.27 56.71,561.00 57.88,560.83 59.05,560.40 60.23,559.05 61.40,558.60 62.57,557.99 63.75,557.61 64.92,556.13 66.09,555.61 67.26,555.08 68.44,553.88 69.61,553.55 70.78,552.14 71.96,551.91 73.13,550.33 74.30,550.17 75.47,549.78 76.65,548.84 77.82,547.60 78.99,546.93 80.17,545.97 81.34,545.71 82.51,544.48 83.69,544.32 84.86,543.68 86.03,542.51 87.21,542.07 88.38,541.97 89.55,540.79 90.72,540.62 91.90,539.84 93.07,539.20 94.24,538.36 95.42,538.05 96.59,536.58 97.76,535.58 98.94,535.06 100.11,534.82 101.28,534.30 102.45,533.90 103.63,533.21 104.80,532.43 105.97,531.38 107.15,531.34 108.32,529.97 109.49,528.95 110.66,528.55 111.84,528.05 113.01,528.09 114.18,527.70 115.36,527.45 116.53,526.96 117.70,525.63 118.88,525.26 120.05,524.15 121.22,523.13 122.40,522.75 123.57,521.93" fill="none" stroke="#5c9e3c" stroke-width="1.4" stroke-linejoin="round" stroke-linecap="round" stroke-dasharray="2 0.8"/>
<polyline points="27.38,553.55 28.55,554.40 29.73,555.70 30.90,556.72 32.07,557.33 33.25,557.21 34.42,557.29 35.59,558.32 36.77,559.04 37.94,559.66 39.11,559.63 40.29,560.43 41.46,561.27 42.63,561.70 43.80,562.78 44.98,562.91 46.15,563.65 47.32,563.32 48.50,563.74 49.67,563.43 50.84,564.03 52.02,564.66 53.19,564.15 54.36,564.01 55.53,564.07 56.71,562.29 57.88,561.04 59.05,559.87 60.23,559.29 61.40,558.40 62.57,557.56 63.75,557.24 64.92,557.14 66.09,555.89 67.26,554.50 68.44,554.46 69.61,553.38 70.78,552.69 71.96,552.11 73.13,551.08 74.30,550.30 75.47,549.31 76.65,548.89 77.82,548.31 78.99,547.47 80.17,547.21 81.34,545.88 82.51,545.93 83.69,544.66 84.86,544.56 86.03,544.19 87.21,542.60 88.38,541.82 89.55,541.57 90.72,540.63 91.90,540.30 93.07,539.31 94.24,538.97 95.42,538.44 96.59,538.20 97.76,537.21 98.94,536.87 100.11,535.94 101.28,535.29 102.45,534.25 103.63,534.00 104.80,532.95 105.97,532.90 107.15,531.59 108.32,531.54 109.49,530.80 110.66,530.56 111.84,529.25 113.01,528.93 114.18,528.69 115.36,527.57 116.53,526.51 117.70,525.87 118.88,525.24 120.05,524.55 121.22,523.59 122.40,523.58 123.57,523.60" fill="none" stroke="#141414" stroke-width="1.5" stroke-linejoin="round" stroke-linecap="round" stroke-dasharray="2.2 0.8"/>
<text x="126.60" y="519.39" font-size="5.6" font-weight="bold" fill="#5a9a3a">M18-1<tspan font-size="3.6" dy="-2">wt</tspan></text>
<text x="126.60" y="524.89" font-size="5.6" font-weight="bold" fill="#111">control</text>
<text x="127.20" y="541.29" font-size="5.6" font-weight="bold" fill="#bb3038">M18-1<tspan font-size="3.2" dy="-2">R405Q</tspan></text>
<text x="127.90" y="564.99" font-size="5.6" font-weight="bold" fill="#2433c8">cdV2</text>
<text x="0.99" y="9.75" font-size="12.3" font-weight="bold" fill="#000">A</text>
<text x="12.10" y="41.76" font-size="5.8" font-weight="bold" fill="#a5283a" textLength="18.9" lengthAdjust="spacingAndGlyphs">Vamp2</text>
<text x="63.00" y="32.09" font-size="5.6" font-weight="bold" fill="#8fb1bf" textLength="14.2" lengthAdjust="spacingAndGlyphs">STX1</text>
<text x="63.70" y="40.19" font-size="5.6" font-weight="bold" fill="#2c2f8c" textLength="24.9" lengthAdjust="spacingAndGlyphs">SNAP25</text>
<text x="84.00" y="27.39" font-size="5.6" font-weight="bold" fill="#6c9a50" textLength="28.9" lengthAdjust="spacingAndGlyphs">MUNC18-1</text>
<text x="85.30" y="74.49" font-size="5.6" font-weight="bold" fill="#8a5a68" textLength="13.4" lengthAdjust="spacingAndGlyphs">cdV2</text>
<text x="6.5" y="83.5" font-size="8.6" fill="#2e2e2e" textLength="41.3" lengthAdjust="spacingAndGlyphs">v-liposome</text>
<text x="63.7" y="91.1" font-size="8.6" fill="#2e2e2e" textLength="39.1" lengthAdjust="spacingAndGlyphs">t-liposome</text>
<text x="262.70" y="31.15" font-size="8.6" font-weight="bold" fill="#111" textLength="32.6" lengthAdjust="spacingAndGlyphs">FUSION</text>
<text x="260.80" y="67.55" font-size="8.6" font-weight="bold" fill="#111" textLength="47.7" lengthAdjust="spacingAndGlyphs">NO FUSION</text>
<path d="M35.70 42.80 Q35.50 37.50 31.00 34.70 " fill="none" stroke="#bb2230" stroke-width="1.45" stroke-linecap="round" stroke-linejoin="round"/>
<path d="M49.10 46.80 Q53.00 44.50 53.50 42.50 Q54.00 40.50 56.50 39.40 " fill="none" stroke="#bb2230" stroke-width="1.45" stroke-linecap="round" stroke-linejoin="round"/>
<path d="M28.30 54.90 Q24.00 55.30 20.90 54.90 " fill="none" stroke="#bb2230" stroke-width="1.45" stroke-linecap="round" stroke-linejoin="round"/>
<path d="M43.00 64.30 Q43.30 69.00 44.40 73.70 " fill="none" stroke="#bb2230" stroke-width="1.45" stroke-linecap="round" stroke-linejoin="round"/>
<circle cx="41.20" cy="54.40" r="13.00" fill="#a7a7a7" stroke="#476a42" stroke-width="1.0"/>
<text x="41.20" y="57.58" font-size="8.4" font-weight="bold" fill="#111" text-anchor="middle">V</text>
<text x="61.20" y="58.57" font-size="9.5" font-weight="bold" fill="#111" text-anchor="middle">+</text>
<line x1="69.07" y1="50.28" x2="62.05" y2="44.84" stroke="#9cbbe0" stroke-width="0.95" stroke-linecap="round"/>
<line x1="69.80" y1="49.60" x2="63.80" y2="43.20" stroke="#3c48c4" stroke-width="0.95" stroke-linecap="round"/>
<line x1="70.53" y1="48.92" x2="65.55" y2="41.56" stroke="#3c48c4" stroke-width="0.95" stroke-linecap="round"/>
<line x1="94.00" y1="54.60" x2="100.80" y2="53.00" stroke="#3c48c4" stroke-width="0.95" stroke-linecap="round"/>
<line x1="94.00" y1="55.60" x2="100.80" y2="55.60" stroke="#3c48c4" stroke-width="0.95" stroke-linecap="round"/>
<line x1="94.00" y1="56.60" x2="100.80" y2="58.20" stroke="#9cbbe0" stroke-width="0.95" stroke-linecap="round"/>
<line x1="76.53" y1="66.16" x2="75.24" y2="73.46" stroke="#3c48c4" stroke-width="0.95" stroke-linecap="round"/>
<line x1="75.60" y1="65.80" x2="73.00" y2="72.60" stroke="#3c48c4" stroke-width="0.95" stroke-linecap="round"/>
<line x1="74.67" y1="65.44" x2="70.76" y2="71.74" stroke="#9cbbe0" stroke-width="0.95" stroke-linecap="round"/>
<circle cx="81.40" cy="54.70" r="12.70" fill="#efeded" stroke="#3e3e3e" stroke-width="1.0"/>
<text x="81.40" y="57.88" font-size="8.4" font-weight="bold" fill="#111" text-anchor="middle">T</text>
<path d="M99.3 30.2 L98.9 39.7" fill="none" stroke="#6ac64a" stroke-width="4.3" stroke-linecap="round"/>
<path d="M99.6 30.0 L106.4 35.6" fill="none" stroke="#74cc58" stroke-width="3.3" stroke-linecap="round"/>
<line x1="95.60" y1="45.50" x2="109.88" y2="38.16" stroke="#111" stroke-width="1.2" />
<polygon points="112.90,36.60 110.75,39.84 109.01,36.47" fill="#111"/>
<line x1="95.60" y1="63.60" x2="111.39" y2="74.29" stroke="#111" stroke-width="1.2" />
<polygon points="114.20,76.20 110.32,75.87 112.45,72.72" fill="#111"/>
<line x1="90.70" y1="76.30" x2="98.10" y2="80.60" stroke="#d49a9a" stroke-width="1.3" stroke-linecap="round"/>
<path d="M132.20 26.80 Q133.50 23.00 132.80 20.50 Q132.50 17.50 134.20 14.70 " fill="none" stroke="#bb2230" stroke-width="1.45" stroke-linecap="round" stroke-linejoin="round"/>
<path d="M120.10 28.80 Q116.50 25.50 112.70 23.50 " fill="none" stroke="#bb2230" stroke-width="1.45" stroke-linecap="round" stroke-linejoin="round"/>
<path d="M125.50 48.40 Q122.00 51.00 119.40 55.10 " fill="none" stroke="#bb2230" stroke-width="1.45" stroke-linecap="round" stroke-linejoin="round"/>
<circle cx="129.70" cy="37.20" r="12.80" fill="#a7a7a7" stroke="#476a42" stroke-width="1.0"/>
<line x1="166.06" y1="24.87" x2="167.33" y2="17.67" stroke="#3c48c4" stroke-width="0.95" stroke-linecap="round"/>
<line x1="167.00" y1="25.20" x2="169.40" y2="18.40" stroke="#3c48c4" stroke-width="0.95" stroke-linecap="round"/>
<line x1="167.94" y1="25.53" x2="171.47" y2="19.13" stroke="#9cbbe0" stroke-width="0.95" stroke-linecap="round"/>
<line x1="172.41" y1="46.21" x2="177.58" y2="51.31" stroke="#3c48c4" stroke-width="0.95" stroke-linecap="round"/>
<line x1="171.60" y1="46.80" x2="175.80" y2="52.60" stroke="#3c48c4" stroke-width="0.95" stroke-linecap="round"/>
<line x1="170.79" y1="47.39" x2="174.02" y2="53.89" stroke="#9cbbe0" stroke-width="0.95" stroke-linecap="round"/>
<circle cx="162.80" cy="37.20" r="13.00" fill="#efeded" stroke="#3e3e3e" stroke-width="1.0"/>
<ellipse cx="146.6" cy="37.0" rx="3.8" ry="6.6" fill="#6cc24a"/>
<line x1="145.50" y1="34.60" x2="149.80" y2="34.60" stroke="#3c48c4" stroke-width="0.8" stroke-linecap="round"/>
<line x1="145.50" y1="35.80" x2="149.80" y2="35.80" stroke="#3c48c4" stroke-width="0.8" stroke-linecap="round"/>
<line x1="145.50" y1="38.90" x2="149.80" y2="38.90" stroke="#3c48c4" stroke-width="0.8" stroke-linecap="round"/>
<line x1="145.50" y1="40.10" x2="149.80" y2="40.10" stroke="#3c48c4" stroke-width="0.8" stroke-linecap="round"/>
<line x1="191.40" y1="34.00" x2="198.60" y2="34.00" stroke="#111" stroke-width="1.2" />
<polygon points="202.00,34.00 198.60,36.00 198.60,32.00" fill="#111"/>
<line x1="224.39" y1="20.09" x2="217.71" y2="13.29" stroke="#3c48c4" stroke-width="0.95" stroke-linecap="round"/>
<line x1="225.20" y1="19.50" x2="219.24" y2="12.16" stroke="#bb2230" stroke-width="0.95" stroke-linecap="round"/>
<line x1="226.00" y1="18.90" x2="220.76" y2="11.04" stroke="#3c48c4" stroke-width="0.95" stroke-linecap="round"/>
<line x1="226.81" y1="18.31" x2="222.29" y2="9.91" stroke="#9cbbe0" stroke-width="0.95" stroke-linecap="round"/>
<line x1="247.20" y1="21.48" x2="253.70" y2="13.87" stroke="#3c48c4" stroke-width="0.95" stroke-linecap="round"/>
<line x1="247.87" y1="22.23" x2="254.97" y2="15.29" stroke="#bb2230" stroke-width="0.95" stroke-linecap="round"/>
<line x1="248.53" y1="22.97" x2="256.23" y2="16.71" stroke="#3c48c4" stroke-width="0.95" stroke-linecap="round"/>
<line x1="249.20" y1="23.72" x2="257.50" y2="18.13" stroke="#9cbbe0" stroke-width="0.95" stroke-linecap="round"/>
<line x1="232.27" y1="49.89" x2="232.00" y2="58.35" stroke="#3c48c4" stroke-width="0.95" stroke-linecap="round"/>
<line x1="231.29" y1="49.70" x2="230.13" y2="57.98" stroke="#bb2230" stroke-width="0.95" stroke-linecap="round"/>
<line x1="230.31" y1="49.50" x2="228.27" y2="57.62" stroke="#3c48c4" stroke-width="0.95" stroke-linecap="round"/>
<line x1="229.33" y1="49.31" x2="226.40" y2="57.25" stroke="#9cbbe0" stroke-width="0.95" stroke-linecap="round"/>
<circle cx="234.40" cy="32.50" r="17.80" fill="#d04cd6" stroke="#9a3a82" stroke-width="0.9"/>
<path d="M134.20 73.80 Q137.00 71.50 138.50 67.80 " fill="none" stroke="#bb2230" stroke-width="1.45" stroke-linecap="round" stroke-linejoin="round"/>
<path d="M115.20 81.60 Q112.50 80.00 110.00 80.00 " fill="none" stroke="#bb2230" stroke-width="1.45" stroke-linecap="round" stroke-linejoin="round"/>
<path d="M140.80 91.00 Q143.50 91.50 144.50 93.50 Q145.50 96.00 147.20 96.30 " fill="none" stroke="#bb2230" stroke-width="1.45" stroke-linecap="round" stroke-linejoin="round"/>
<path d="M129.90 98.00 Q129.00 102.00 128.70 105.80 " fill="none" stroke="#bb2230" stroke-width="1.45" stroke-linecap="round" stroke-linejoin="round"/>
<circle cx="128.40" cy="85.80" r="12.70" fill="#a7a7a7" stroke="#476a42" stroke-width="1.0"/>
<line x1="159.52" y1="84.70" x2="151.29" y2="85.89" stroke="#3c48c4" stroke-width="0.95" stroke-linecap="round"/>
<line x1="159.60" y1="83.60" x2="151.50" y2="83.00" stroke="#3c48c4" stroke-width="0.95" stroke-linecap="round"/>
<line x1="159.68" y1="82.50" x2="151.71" y2="80.11" stroke="#3c48c4" stroke-width="0.95" stroke-linecap="round"/>
<line x1="158.40" y1="89.60" x2="151.80" y2="92.60" stroke="#c9a6a6" stroke-width="1.4" stroke-linecap="round"/>
<line x1="163.52" y1="94.91" x2="161.09" y2="100.76" stroke="#3c48c4" stroke-width="0.95" stroke-linecap="round"/>
<line x1="162.48" y1="94.29" x2="158.51" y2="99.24" stroke="#3c48c4" stroke-width="0.95" stroke-linecap="round"/>
<line x1="166.80" y1="99.50" x2="165.60" y2="105.60" stroke="#c9a6a6" stroke-width="1.4" stroke-linecap="round"/>
<line x1="185.30" y1="82.20" x2="193.00" y2="80.60" stroke="#c9a6a6" stroke-width="1.4" stroke-linecap="round"/>
<line x1="185.20" y1="88.00" x2="191.50" y2="86.90" stroke="#3c48c4" stroke-width="0.95" stroke-linecap="round"/>
<line x1="185.20" y1="89.20" x2="191.50" y2="90.30" stroke="#3c48c4" stroke-width="0.95" stroke-linecap="round"/>
<circle cx="172.30" cy="84.90" r="13.00" fill="#efeded" stroke="#3e3e3e" stroke-width="1.0"/>
<line x1="192.60" y1="86.80" x2="197.80" y2="86.80" stroke="#111" stroke-width="1.2" />
<polygon points="201.00,86.80 197.80,88.70 197.80,84.90" fill="#111"/>
<path d="M224.60 73.80 Q228.00 71.00 229.80 66.90 " fill="none" stroke="#bb2230" stroke-width="1.45" stroke-linecap="round" stroke-linejoin="round"/>
<path d="M207.30 79.90 Q203.00 78.00 198.70 78.20 " fill="none" stroke="#bb2230" stroke-width="1.45" stroke-linecap="round" stroke-linejoin="round"/>
<path d="M231.50 91.10 Q235.00 91.50 236.00 93.50 Q237.00 95.50 238.40 95.50 " fill="none" stroke="#bb2230" stroke-width="1.45" stroke-linecap="round" stroke-linejoin="round"/>
<path d="M221.10 97.20 Q220.30 101.00 220.30 105.00 " fill="none" stroke="#bb2230" stroke-width="1.45" stroke-linecap="round" stroke-linejoin="round"/>
<circle cx="219.70" cy="84.70" r="12.80" fill="#a7a7a7" stroke="#476a42" stroke-width="1.0"/>
<line x1="250.85" y1="83.90" x2="242.66" y2="85.30" stroke="#3c48c4" stroke-width="0.95" stroke-linecap="round"/>
<line x1="250.90" y1="82.80" x2="242.80" y2="82.40" stroke="#3c48c4" stroke-width="0.95" stroke-linecap="round"/>
<line x1="250.95" y1="81.70" x2="242.94" y2="79.50" stroke="#3c48c4" stroke-width="0.95" stroke-linecap="round"/>
<line x1="250.40" y1="88.60" x2="243.60" y2="91.20" stroke="#c9a6a6" stroke-width="1.4" stroke-linecap="round"/>
<line x1="254.51" y1="93.61" x2="252.08" y2="99.38" stroke="#3c48c4" stroke-width="0.95" stroke-linecap="round"/>
<line x1="253.49" y1="92.99" x2="249.52" y2="97.82" stroke="#3c48c4" stroke-width="0.95" stroke-linecap="round"/>
<line x1="258.60" y1="97.30" x2="257.20" y2="103.30" stroke="#c9a6a6" stroke-width="1.4" stroke-linecap="round"/>
<line x1="276.30" y1="81.30" x2="286.00" y2="79.20" stroke="#c9a6a6" stroke-width="1.4" stroke-linecap="round"/>
<line x1="276.40" y1="86.40" x2="282.80" y2="85.30" stroke="#3c48c4" stroke-width="0.95" stroke-linecap="round"/>
<line x1="276.40" y1="87.60" x2="282.80" y2="88.70" stroke="#3c48c4" stroke-width="0.95" stroke-linecap="round"/>
<circle cx="263.60" cy="83.80" r="12.90" fill="#efeded" stroke="#3e3e3e" stroke-width="1.0"/>
</svg>
</body></html>
